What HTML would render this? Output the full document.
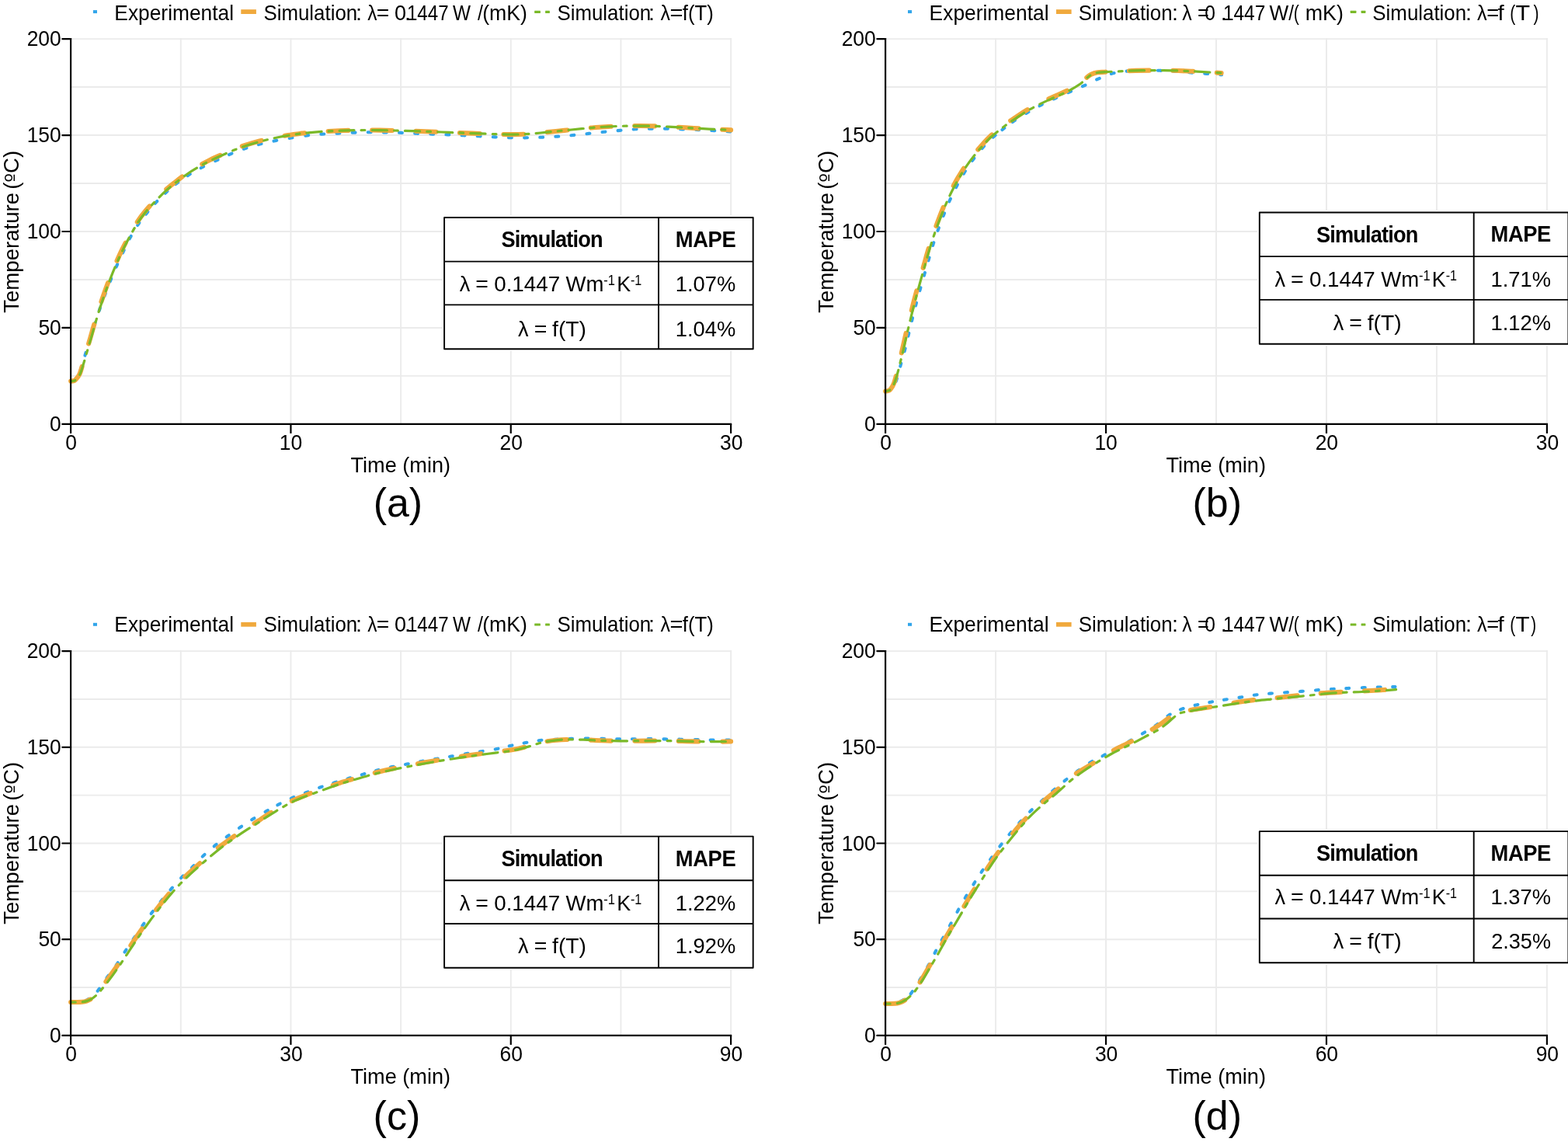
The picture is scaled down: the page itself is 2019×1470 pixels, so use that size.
<!DOCTYPE html>
<html lang="en"><head><meta charset="utf-8"><title>Temperature curves: experimental vs simulation</title>
<style>html,body{margin:0;padding:0;background:#fff}body{width:2019px;height:1470px;overflow:hidden}svg{display:block}</style>
</head><body>
<svg width="2019" height="1470" viewBox="0 0 2019 1470" font-family='"Liberation Sans", Arial, Helvetica, sans-serif' fill="#000">
<rect width="2019" height="1470" fill="#fff"/>
<g transform="translate(0 0)">
<g stroke="#ebebeb" stroke-width="1.9" fill="none">
<line x1="91.1" y1="50.1" x2="942.1" y2="50.1"/>
<line x1="91.1" y1="112.07" x2="942.1" y2="112.07"/>
<line x1="91.1" y1="174.05" x2="942.1" y2="174.05"/>
<line x1="91.1" y1="236.02" x2="942.1" y2="236.02"/>
<line x1="91.1" y1="298" x2="942.1" y2="298"/>
<line x1="91.1" y1="359.98" x2="942.1" y2="359.98"/>
<line x1="91.1" y1="421.95" x2="942.1" y2="421.95"/>
<line x1="91.1" y1="483.92" x2="942.1" y2="483.92"/>
<line x1="232.77" y1="49.1" x2="232.77" y2="545.9"/>
<line x1="374.43" y1="49.1" x2="374.43" y2="545.9"/>
<line x1="516.1" y1="49.1" x2="516.1" y2="545.9"/>
<line x1="657.77" y1="49.1" x2="657.77" y2="545.9"/>
<line x1="799.43" y1="49.1" x2="799.43" y2="545.9"/>
<line x1="941.1" y1="49.1" x2="941.1" y2="545.9"/>
</g>
<g fill="none" stroke-linecap="round" stroke-linejoin="round">
<path d="M91.1 490.7L91.33 490.68L91.63 490.66L91.99 490.64L92.39 490.62L92.81 490.58L93.24 490.54L93.64 490.48L94 490.4L94.31 490.34L94.59 490.32L94.86 490.31L95.12 490.27L95.4 490.18L95.71 490.01L96.07 489.73L96.5 489.3L97.01 488.75L97.59 488.12L98.21 487.4L98.88 486.58L99.55 485.67L100.23 484.65L100.88 483.53L101.5 482.3L102.08 480.93L102.65 479.43L103.2 477.8L103.75 476.08L104.3 474.29L104.85 472.44L105.42 470.57L106 468.7L106.6 466.79L107.21 464.81L107.83 462.79L108.46 460.72L109.09 458.63L109.72 456.54L110.36 454.46L111 452.4L111.64 450.36L112.29 448.33L112.94 446.29L113.59 444.26L114.25 442.22L114.9 440.18L115.55 438.14L116.2 436.1L116.84 434.05L117.48 432L118.12 429.95L118.75 427.9L119.38 425.85L120.02 423.8L120.66 421.75L121.3 419.7L121.94 417.66L122.58 415.62L123.22 413.58L123.86 411.54L124.5 409.51L125.16 407.47L125.82 405.44L126.5 403.4L127.2 401.36L127.91 399.31L128.63 397.26L129.36 395.21L130.09 393.17L130.83 391.13L131.57 389.11L132.3 387.1L133.03 385.11L133.75 383.15L134.48 381.19L135.21 379.25L135.94 377.31L136.68 375.35L137.43 373.39L138.2 371.4L138.98 369.39L139.77 367.37L140.57 365.33L141.38 363.29L142.19 361.24L143.02 359.19L143.85 357.14L144.7 355.1L145.55 353.06L146.42 351.03L147.29 348.99L148.17 346.96L149.07 344.92L149.97 342.88L150.88 340.84L151.8 338.8L152.73 336.75L153.69 334.69L154.65 332.62L155.62 330.56L156.59 328.5L157.57 326.45L158.54 324.41L159.5 322.4L160.43 320.43L161.33 318.5L162.22 316.59L163.11 314.69L164.03 312.78L164.98 310.84L166 308.85L167.1 306.8L168.29 304.66L169.54 302.44L170.86 300.16L172.22 297.86L173.61 295.56L175.01 293.3L176.41 291.1L177.8 289L179.18 286.99L180.57 285.04L181.97 283.15L183.38 281.29L183.45 281.2" stroke="#32a5ea" stroke-width="4.1" stroke-dasharray="3.9 16.25" stroke-dashoffset="0"/>
<path d="M183.45 281.2L184.79 279.47L186.22 277.67L187.65 275.89L189.1 274.1L190.55 272.33L192 270.57L193.47 268.84L194.94 267.13L195.05 267" stroke="#32a5ea" stroke-width="4.1" stroke-dasharray="3.9 16.25" stroke-dashoffset="13.03"/>
<path d="M195.05 267L196.42 265.43L197.93 263.75L199.45 262.07L201 260.4L202.58 258.73L204.18 257.07L205.8 255.41L207.44 253.77L207.55 253.66" stroke="#32a5ea" stroke-width="4.1" stroke-dasharray="3.9 16.25" stroke-dashoffset="13.21"/>
<path d="M207.55 253.66L209.09 252.14L210.75 250.54L212.43 248.95L214.1 247.4L215.77 245.88L217.44 244.38L219.12 242.91L220.81 241.46L220.95 241.34" stroke="#32a5ea" stroke-width="4.1" stroke-dasharray="3.9 16.25" stroke-dashoffset="13.04"/>
<path d="M220.95 241.34L222.51 240.02L224.24 238.6L226 237.2L227.8 235.8L229.63 234.41L231.49 233.04L233.37 231.68L235.28 230.34L235.5 230.19" stroke="#32a5ea" stroke-width="4.1" stroke-dasharray="3.9 16.25" stroke-dashoffset="13.29"/>
<path d="M235.5 230.19L237.22 229.01L239.18 227.69L241.18 226.39L243.2 225.1L245.25 223.83L247.34 222.57L249.46 221.32L251.61 220.09L251.8 219.98" stroke="#32a5ea" stroke-width="4.1" stroke-dasharray="3.9 16.25" stroke-dashoffset="12.87"/>
<path d="M251.8 219.98L253.78 218.87L255.97 217.67L258.18 216.48L260.4 215.3L262.66 214.14L264.95 212.99L267.27 211.86L269.61 210.74L269.65 210.73" stroke="#32a5ea" stroke-width="4.1" stroke-dasharray="3.9 16.25" stroke-dashoffset="12.31"/>
<path d="M269.65 210.73L271.96 209.64L274.29 208.55L276.61 207.47L278.9 206.4L281.15 205.34L283.37 204.3L285.57 203.26L287.77 202.24L287.8 202.23" stroke="#32a5ea" stroke-width="4.1" stroke-dasharray="3.9 16.25" stroke-dashoffset="11.89"/>
<path d="M287.8 202.23L289.97 201.24L292.18 200.24L294.42 199.26L296.7 198.3L299.02 197.35L301.37 196.4L303.74 195.46L306.12 194.54L306.2 194.51" stroke="#32a5ea" stroke-width="4.1" stroke-dasharray="3.9 16.25" stroke-dashoffset="12.37"/>
<path d="M306.2 194.51L308.52 193.64L310.92 192.76L313.32 191.91L315.7 191.1L318.07 190.32L320.43 189.58L322.79 188.86L325.16 188.17L325.2 188.16" stroke="#32a5ea" stroke-width="4.1" stroke-dasharray="3.9 16.25" stroke-dashoffset="12.01"/>
<path d="M325.2 188.16L327.52 187.51L329.9 186.86L332.29 186.22L334.7 185.6L337.13 184.99L339.56 184.4L342.01 183.83L344.47 183.28L344.55 183.26" stroke="#32a5ea" stroke-width="4.1" stroke-dasharray="3.9 16.25" stroke-dashoffset="12.26"/>
<path d="M344.55 183.26L346.95 182.74L349.42 182.22L351.91 181.7L354.4 181.2L356.9 180.71L359.4 180.23L361.92 179.77L364.44 179.32L364.5 179.31" stroke="#32a5ea" stroke-width="4.1" stroke-dasharray="3.9 16.25" stroke-dashoffset="12.04"/>
<path d="M364.5 179.31L366.97 178.89L369.5 178.45L372.05 178.03L374.6 177.6L377.17 177.17L379.77 176.74L382.39 176.31L384.4 175.99" stroke="#32a5ea" stroke-width="4.1" stroke-dasharray="3.9 16.25" stroke-dashoffset="11.86"/>
<path d="M384.4 175.99L385.01 175.89L387.62 175.48L390.21 175.09L392.78 174.73L395.3 174.4L397.77 174.1L400.19 173.83L402.57 173.59L404.94 173.36L407.31 173.15L409.7 172.96L412.13 172.78L414.6 172.6L417.13 172.44L419.71 172.29L422.33 172.16L424.96 172.04L427.59 171.93L430.22 171.82L432.83 171.71L435.4 171.6L437.94 171.48L440.45 171.36L442.95 171.24L445.44 171.12L447.93 171L450.41 170.89L452.9 170.79L455.4 170.7L457.9 170.61L460.4 170.53L462.9 170.45L465.4 170.38L467.91 170.32L470.42 170.27L472.95 170.23L475.5 170.2L478.07 170.19L480.67 170.19L483.28 170.21L485.9 170.24L488.52 170.27L491.13 170.31L493.73 170.36L496.3 170.4L498.85 170.45L501.38 170.49L503.89 170.55L506.4 170.61L508.9 170.67L511.4 170.74L513.9 170.82L516.4 170.9L518.9 170.99L521.4 171.1L523.9 171.21L526.4 171.33L528.9 171.45L531.4 171.57L533.9 171.69L536.4 171.8L538.91 171.9L541.42 172.01L543.93 172.11L546.45 172.21L548.97 172.3L551.48 172.4L553.99 172.5L556.5 172.6L559 172.7L561.5 172.8L564 172.9L566.5 172.99L569 173.09L571.5 173.19L574 173.3L576.5 173.4L579.01 173.51L581.52 173.62L584.03 173.73L586.55 173.84L589.07 173.95L591.58 174.07L594.09 174.18L596.6 174.3L599.1 174.42L601.6 174.54L604.1 174.66L606.6 174.79L609.1 174.91L611.6 175.04L614.1 175.17L616.6 175.3L619.1 175.43L621.6 175.58L624.1 175.72L626.6 175.86L629.11 176.01L631.62 176.14L634.15 176.28L636.7 176.4L639.27 176.52L641.86 176.64L644.47 176.75L647.09 176.86L649.71 176.96L652.32 177.06L654.92 177.14L657.5 177.2L660.06 177.25L662.61 177.29L665.16 177.32L667.69 177.34L670.22 177.34L672.75 177.34L675.28 177.33L677.8 177.3L680.32 177.26L682.83 177.21L685.34 177.15L687.85 177.08L690.36 176.99L692.87 176.9L695.38 176.8L697.9 176.7L700.43 176.59L702.97 176.47L705.52 176.35L708.07 176.21L710.62 176.07L713.16 175.92L715.69 175.76L718.2 175.6L720.7 175.43L723.18 175.25L725.65 175.06L728.11 174.86L730.58 174.66L733.04 174.45L735.51 174.23L738 174L740.5 173.76L743.01 173.51L745.52 173.25L748.04 172.98L750.56 172.71L753.08 172.44L755.59 172.17L758.1 171.9L760.6 171.64L763.1 171.37L765.6 171.1L768.1 170.84L770.6 170.57L773.1 170.31L775.6 170.05L778.1 169.8L780.61 169.55L783.12 169.3L785.63 169.06L788.15 168.82L790.67 168.58L793.18 168.35L795.69 168.12L798.2 167.9L800.7 167.68L803.2 167.46L805.7 167.23L808.2 167.02L810.7 166.81L813.2 166.62L815.7 166.45L818.2 166.3L820.7 166.17L823.2 166.07L825.7 165.98L828.2 165.9L830.71 165.84L833.22 165.78L835.75 165.74L838.3 165.7L840.88 165.67L843.49 165.64L846.11 165.63L848.75 165.62L851.38 165.62L853.99 165.64L856.57 165.66L859.1 165.7L861.57 165.75L864 165.83L866.38 165.91L868.75 166.01L871.12 166.11L873.5 166.21L875.93 166.31L878.4 166.4L880.93 166.48L883.51 166.57L886.12 166.64L888.75 166.72L891.39 166.81L894.01 166.9L896.62 166.99L899.2 167.1L901.73 167.22L904.23 167.34L906.71 167.47L909.19 167.61L911.67 167.76L914.17 167.9L916.71 168.05L919.3 168.2L922.09 168.36L925.14 168.54L928.31 168.73L931.46 168.92L934.45 169.1L937.14 169.26L939.41 169.4L941.1 169.5" stroke="#32a5ea" stroke-width="4.1" stroke-dasharray="3.9 16.25" stroke-dashoffset="11.14"/>
<path d="M91.1 490.7C91.67 490.63 93.5 490.58 94.5 490.3C95.5 490.02 95.81 490.37 97.1 489C98.39 487.62 100.66 485.49 102.24 482.07C103.83 478.65 105.11 473.44 106.61 468.45C108.11 463.46 109.67 457.56 111.24 452.12C112.81 446.68 114.46 441.27 116.04 435.82C117.62 430.37 119.16 424.87 120.74 419.42C122.32 413.97 123.84 408.54 125.55 403.1C127.25 397.66 129.13 392.12 130.95 386.78C132.77 381.44 134.52 376.4 136.46 371.06C138.4 365.72 140.42 360.18 142.57 354.73C144.72 349.29 147 343.86 149.38 338.4C151.77 332.94 154.18 327.54 156.9 321.96C159.62 316.38 162.38 311 165.72 304.92C169.07 298.83 173.29 291.1 176.96 285.46C180.63 279.81 183.94 275.64 187.73 271.06C191.52 266.49 195.49 262.38 199.68 258.01C203.86 253.64 208.44 248.84 212.83 244.86C217.21 240.88 221.42 237.69 225.98 234.11C230.55 230.53 235.46 226.66 240.23 223.38C245 220.1 249.81 217.23 254.6 214.44C259.38 211.64 263.99 209.1 268.95 206.61C273.92 204.11 279.23 201.81 284.39 199.49C289.55 197.17 294.56 194.81 299.93 192.67C305.3 190.53 311.02 188.48 316.59 186.65C322.16 184.82 327.77 183.18 333.35 181.69C338.92 180.19 344.28 178.91 350.04 177.71C355.81 176.5 361.95 175.4 367.92 174.45C373.89 173.5 381.81 172.54 385.87 172C389.93 171.46 387.5 171.62 392.29 171.19C397.08 170.76 407.16 169.88 414.6 169.4C422.04 168.92 429.47 168.6 436.9 168.3C444.33 168 450.53 167.72 459.2 167.6C467.87 167.48 479 167.48 488.9 167.6C498.8 167.72 508.7 168.03 518.6 168.3C528.5 168.57 538.4 168.85 548.3 169.2C558.2 169.55 568.1 170 578 170.4C587.9 170.8 597.78 171.23 607.7 171.6C617.62 171.97 628.78 172.35 637.5 172.6C646.22 172.85 652.53 173.15 660 173.1C667.47 173.05 674.87 172.8 682.3 172.3C689.73 171.8 697.17 170.83 704.6 170.1C712.03 169.37 719.47 168.63 726.9 167.9C734.33 167.17 741.78 166.4 749.2 165.7C756.62 165 763.98 164.23 771.4 163.7C778.82 163.17 786.27 162.77 793.7 162.5C801.13 162.23 808.57 162.15 816 162.1C823.43 162.05 830.87 162.03 838.3 162.2C845.73 162.37 853.17 162.75 860.6 163.1C868.03 163.45 875.47 163.87 882.9 164.3C890.33 164.73 897.77 165.3 905.2 165.7C912.63 166.1 921.52 166.42 927.5 166.7C933.48 166.98 938.83 167.28 941.1 167.4" stroke="#f0a93d" stroke-width="6.1" stroke-dasharray="25.9 30.55" stroke-dashoffset="0"/>
<path d="M91.1 490.7C91.67 490.63 93.48 490.57 94.5 490.3C95.52 490.03 95.83 490.43 97.2 489.1C98.57 487.77 101 485.7 102.7 482.3C104.4 478.9 105.82 473.68 107.4 468.7C108.98 463.72 110.6 457.83 112.2 452.4C113.8 446.97 115.42 441.55 117 436.1C118.58 430.65 120.12 425.15 121.7 419.7C123.28 414.25 124.8 408.83 126.5 403.4C128.2 397.97 130.08 392.43 131.9 387.1C133.72 381.77 135.47 376.73 137.4 371.4C139.33 366.07 141.35 360.53 143.5 355.1C145.65 349.67 147.92 344.25 150.3 338.8C152.68 333.35 155.08 327.97 157.8 322.4C160.52 316.83 163.27 311.47 166.6 305.4C169.93 299.33 174.15 291.62 177.8 286C181.45 280.38 184.73 276.25 188.5 271.7C192.27 267.15 196.23 263.05 200.4 258.7C204.57 254.35 209.13 249.57 213.5 245.6C217.87 241.63 222.05 238.47 226.6 234.9C231.15 231.33 236.05 227.47 240.8 224.2C245.55 220.93 250.33 218.08 255.1 215.3C259.87 212.52 264.45 209.98 269.4 207.5C274.35 205.02 279.65 202.72 284.8 200.4C289.95 198.08 294.95 195.73 300.3 193.6C305.65 191.47 311.35 189.43 316.9 187.6C322.45 185.77 328.05 184.13 333.6 182.6C339.15 181.07 344.47 179.68 350.2 178.4C355.93 177.12 362.05 175.93 368 174.9C373.95 173.87 381.85 172.8 385.9 172.2C389.95 171.6 387.52 171.77 392.3 171.3C397.08 170.83 407.17 169.9 414.6 169.4C422.03 168.9 429.47 168.6 436.9 168.3C444.33 168 450.53 167.72 459.2 167.6C467.87 167.48 479 167.48 488.9 167.6C498.8 167.72 508.7 168.03 518.6 168.3C528.5 168.57 538.4 168.85 548.3 169.2C558.2 169.55 568.1 170 578 170.4C587.9 170.8 597.78 171.23 607.7 171.6C617.62 171.97 628.78 172.35 637.5 172.6C646.22 172.85 652.53 173.15 660 173.1C667.47 173.05 674.87 172.8 682.3 172.3C689.73 171.8 697.17 170.83 704.6 170.1C712.03 169.37 719.47 168.63 726.9 167.9C734.33 167.17 741.78 166.4 749.2 165.7C756.62 165 763.98 164.23 771.4 163.7C778.82 163.17 786.27 162.77 793.7 162.5C801.13 162.23 808.57 162.15 816 162.1C823.43 162.05 830.87 162.03 838.3 162.2C845.73 162.37 853.17 162.75 860.6 163.1C868.03 163.45 875.47 163.87 882.9 164.3C890.33 164.73 897.77 165.3 905.2 165.7C912.63 166.1 921.52 166.42 927.5 166.7C933.48 166.98 938.83 167.28 941.1 167.4" stroke="#7ab928" stroke-width="3.2" stroke-dasharray="19.2 9.1 4.8 9.1" stroke-dashoffset="27"/>
</g>
<g stroke="#000" stroke-width="2.2" fill="none">
<path d="M91.1 49V545.9H942.2"/>
<line x1="80.3" y1="50.1" x2="91.1" y2="50.1" stroke-linecap="round"/>
<line x1="80.3" y1="174.05" x2="91.1" y2="174.05" stroke-linecap="round"/>
<line x1="80.3" y1="298" x2="91.1" y2="298" stroke-linecap="round"/>
<line x1="80.3" y1="421.95" x2="91.1" y2="421.95" stroke-linecap="round"/>
<line x1="80.3" y1="545.9" x2="91.1" y2="545.9" stroke-linecap="round"/>
<line x1="91.1" y1="545.9" x2="91.1" y2="557.9"/>
<line x1="374.43" y1="545.9" x2="374.43" y2="557.9"/>
<line x1="657.77" y1="545.9" x2="657.77" y2="557.9"/>
<line x1="941.1" y1="545.9" x2="941.1" y2="557.9"/>
</g>
<text x="34.63" y="59.1" font-size="27.7" textLength="44.14" lengthAdjust="spacingAndGlyphs">200</text>
<text x="34.63" y="183.05" font-size="27.7" textLength="44.14" lengthAdjust="spacingAndGlyphs">150</text>
<text x="34.63" y="307" font-size="27.7" textLength="44.14" lengthAdjust="spacingAndGlyphs">100</text>
<text x="49.38" y="430.95" font-size="27.7" textLength="29.43" lengthAdjust="spacingAndGlyphs">50</text>
<text transform="translate(64.06 554.9) scale(0.9550 1)" font-size="27.7">0</text>
<text transform="translate(84.28 579.3) scale(0.9550 1)" font-size="27.7">0</text>
<text x="359.81" y="579.3" font-size="27.7" textLength="29.43" lengthAdjust="spacingAndGlyphs">10</text>
<text x="643.47" y="579.3" font-size="27.7" textLength="29.43" lengthAdjust="spacingAndGlyphs">20</text>
<text x="926.97" y="579.3" font-size="27.7" textLength="29.43" lengthAdjust="spacingAndGlyphs">30</text>
<text x="451.49" y="607.9" font-size="28.2" textLength="128.55" lengthAdjust="spacingAndGlyphs">Time (min)</text>
<text transform="translate(23.7 298.3) rotate(-90)" font-size="27.6" text-anchor="middle" word-spacing="-3.6">Temperature (<tspan font-family="DejaVu Sans, sans-serif" font-size="25">º</tspan>C)</text>
<rect x="119.9" y="13.1" width="5.1" height="4" fill="#32a5ea"/>
<rect x="310.3" y="12.2" width="19.6" height="5.8" fill="#f0a93d"/>
<rect x="688.2" y="13.7" width="7.7" height="3.2" rx="0.5" fill="#7ab928"/>
<rect x="702.1" y="13.7" width="5.8" height="3.2" rx="0.5" fill="#7ab928"/>
<text font-size="27.9"><tspan x="147.33" y="26.1" textLength="153.71" lengthAdjust="spacingAndGlyphs">Experimental</tspan></text>
<text font-size="27.9"><tspan x="339.44" y="26.1" textLength="120.72" lengthAdjust="spacingAndGlyphs">Simulation</tspan><tspan x="458.02" y="26.1" textLength="7.98" lengthAdjust="spacingAndGlyphs">:</tspan> <tspan x="473.22" y="26.1" textLength="12.23" lengthAdjust="spacingAndGlyphs">λ</tspan><tspan x="484.86" y="26.1" textLength="16.53" lengthAdjust="spacingAndGlyphs">=</tspan> <tspan x="507.92" y="26.1" textLength="15.03" lengthAdjust="spacingAndGlyphs">0</tspan><tspan x="521.02" y="26.1" textLength="7.98" lengthAdjust="spacingAndGlyphs">.</tspan><tspan x="523.99" y="26.1" textLength="53.56" lengthAdjust="spacingAndGlyphs">1447</tspan> <tspan x="583.08" y="26.1" textLength="23.02" lengthAdjust="spacingAndGlyphs">W</tspan> <tspan x="614.9" y="26.1" textLength="6.91" lengthAdjust="spacingAndGlyphs">/</tspan><tspan x="621.13" y="26.1" textLength="57.8" lengthAdjust="spacingAndGlyphs">(mK)</tspan></text>
<text font-size="27.9"><tspan x="717.44" y="26.1" textLength="120.72" lengthAdjust="spacingAndGlyphs">Simulation</tspan><tspan x="835.02" y="26.1" textLength="7.98" lengthAdjust="spacingAndGlyphs">:</tspan> <tspan x="850.61" y="26.1" textLength="12.44" lengthAdjust="spacingAndGlyphs">λ</tspan><tspan x="862.52" y="26.1" textLength="17.01" lengthAdjust="spacingAndGlyphs">=</tspan><tspan x="878.81" y="26.1" textLength="40.02" lengthAdjust="spacingAndGlyphs">f(T)</tspan></text>
<g transform="translate(0 0)">
<rect x="569.6" y="277.5" width="402.6" height="174.2" fill="#fff"/>
<path d="M572.1 280H969.7V449.2H572.1ZM572.1 336.6H969.7M572.1 392.4H969.7M848 280V449.2" fill="none" stroke="#000" stroke-width="1.9" stroke-linejoin="round"/>
<text transform="translate(645.38 318.3) scale(0.9500 1)" font-size="28.6" letter-spacing="-0.888" font-weight="bold">Simulation</text>
<text transform="translate(869.85 317.9) scale(0.9500 1)" font-size="28.8" letter-spacing="-0.431" font-weight="bold">MAPE</text>
<text font-size="28.4"><tspan x="591.8" y="374.8" textLength="13.58" lengthAdjust="spacingAndGlyphs">λ</tspan> <tspan x="612.35" y="374.8" textLength="16.65" lengthAdjust="spacingAndGlyphs">=</tspan> <tspan x="636.19" y="374.8" textLength="84.93" lengthAdjust="spacingAndGlyphs">0.1447</tspan> <tspan x="728.56" y="374.8" textLength="48.91" lengthAdjust="spacingAndGlyphs">Wm</tspan><tspan x="777.26" y="366.9" font-size="18.7" textLength="14.65" lengthAdjust="spacingAndGlyphs">-1</tspan><tspan x="794.18" y="374.8" textLength="17.94" lengthAdjust="spacingAndGlyphs">K</tspan><tspan x="811.98" y="366.9" font-size="18.7" textLength="14.32" lengthAdjust="spacingAndGlyphs">-1</tspan></text>
<text font-size="28.4"><tspan x="869.85" y="374.8" textLength="77.45" lengthAdjust="spacingAndGlyphs">1.07%</tspan></text>
<text font-size="28.4"><tspan x="667.1" y="432.9" textLength="13.58" lengthAdjust="spacingAndGlyphs">λ</tspan> <tspan x="687.65" y="432.9" textLength="16.65" lengthAdjust="spacingAndGlyphs">=</tspan> <tspan x="711.08" y="432.9" textLength="43.91" lengthAdjust="spacingAndGlyphs">f(T)</tspan></text>
<text font-size="28.4"><tspan x="869.85" y="432.9" textLength="77.45" lengthAdjust="spacingAndGlyphs">1.04%</tspan></text>
</g>
<text x="480.66" y="665.4" font-size="51.7" textLength="63.44" lengthAdjust="spacingAndGlyphs">(a)</text>
</g>
<g transform="translate(1049 0)">
<g stroke="#ebebeb" stroke-width="1.9" fill="none">
<line x1="91.1" y1="50.1" x2="943.9" y2="50.1"/>
<line x1="91.1" y1="112.07" x2="943.9" y2="112.07"/>
<line x1="91.1" y1="174.05" x2="943.9" y2="174.05"/>
<line x1="91.1" y1="236.02" x2="943.9" y2="236.02"/>
<line x1="91.1" y1="298" x2="943.9" y2="298"/>
<line x1="91.1" y1="359.98" x2="943.9" y2="359.98"/>
<line x1="91.1" y1="421.95" x2="943.9" y2="421.95"/>
<line x1="91.1" y1="483.92" x2="943.9" y2="483.92"/>
<line x1="233.07" y1="49.1" x2="233.07" y2="545.9"/>
<line x1="375.03" y1="49.1" x2="375.03" y2="545.9"/>
<line x1="517" y1="49.1" x2="517" y2="545.9"/>
<line x1="658.97" y1="49.1" x2="658.97" y2="545.9"/>
<line x1="800.93" y1="49.1" x2="800.93" y2="545.9"/>
<line x1="942.9" y1="49.1" x2="942.9" y2="545.9"/>
</g>
<g fill="none" stroke-linecap="round" stroke-linejoin="round">
<path d="M91.1 503.6L91.39 503.58L91.76 503.56L92.22 503.54L92.72 503.51L93.25 503.47L93.79 503.41L94.31 503.32L94.8 503.2L95.25 503.08L95.69 502.99L96.13 502.89L96.57 502.76L97.02 502.57L97.48 502.3L97.98 501.92L98.5 501.4L99.07 500.75L99.68 500L100.31 499.15L100.97 498.21L101.63 497.18L102.28 496.09L102.9 494.92L103.5 493.7L104.07 492.4L104.61 491.01L105.15 489.54L105.67 488L106.18 486.41L106.69 484.77L107.19 483.09L107.7 481.4L108.2 479.66L108.69 477.86L109.17 476.01L109.65 474.12L110.13 472.21L110.61 470.29L111.1 468.39L111.6 466.5L112.11 464.64L112.63 462.79L113.16 460.94L113.69 459.09L114.23 457.22L114.76 455.34L115.28 453.44L115.8 451.5L116.31 449.52L116.83 447.49L117.34 445.43L117.84 443.35L118.35 441.27L118.84 439.21L119.33 437.18L119.8 435.2L120.26 433.26L120.71 431.36L121.14 429.48L121.57 427.62L121.99 425.77L122.42 423.92L122.86 422.07L123.3 420.2L123.75 418.33L124.2 416.48L124.65 414.63L125.11 412.78L125.57 410.92L126.04 409.04L126.51 407.14L127 405.2L127.5 403.22L128.01 401.19L128.54 399.13L129.07 397.05L129.6 394.97L130.14 392.91L130.67 390.88L131.2 388.9L131.72 386.97L132.24 385.09L132.76 383.24L133.28 381.4L133.8 379.56L134.32 377.71L134.86 375.83L135.4 373.9L135.95 371.92L136.52 369.92L137.09 367.88L137.66 365.83L138.24 363.77L138.83 361.71L139.41 359.65L140 357.6L140.59 355.56L141.2 353.51L141.8 351.46L142.41 349.41L143.02 347.37L143.62 345.33L144.22 343.31L144.8 341.3L145.37 339.31L145.92 337.33L146.46 335.36L147 333.41L147.54 331.45L148.08 329.5L148.63 327.55L149.2 325.6L149.79 323.6L150.41 321.55L151.04 319.48L151.68 317.42L152.3 315.41L152.9 313.48L153.47 311.66L154 310L154.45 308.57L154.83 307.38L155.16 306.34L155.48 305.37L155.81 304.37L156.18 303.27L156.64 301.98L157.2 300.4L157.87 298.53L158.63 296.44L159.46 294.18L160.34 291.8L161.25 289.35L162.17 286.89L163.1 284.45L164 282.1L164.89 279.8L165.8 277.48L166.71 275.15L167.63 272.83L168.56 270.52L169.5 268.22L170.45 265.94L171.4 263.7L172.36 261.48L173.33 259.29L174.3 257.1L175.28 254.94L176.27 252.8L177.27 250.68L178.28 248.58L179.3 246.5L180.33 244.45L181.36 242.43L182.4 240.44L183.44 238.47L184.51 236.51L185.58 234.54L186.68 232.58L187.8 230.6L188.94 228.6L190.11 226.58L191.29 224.56L192.49 222.54L193.71 220.53L194.93 218.55L196.16 216.6L197.4 214.7L198.65 212.84L199.91 211L201.18 209.2L202.46 207.42L203.75 205.67L205.04 203.95L206.32 202.26L207.6 200.6L208.87 198.97L210.14 197.38L211.4 195.82L212.67 194.29L213.94 192.79L215.21 191.31L216.5 189.85L217.8 188.4L219.09 186.99L220.35 185.62L221.61 184.29L222.89 182.97L224.19 181.65L225.55 180.33L226.98 178.98L228.5 177.6L230.13 176.17L231.86 174.7L233.67 173.2L235.53 171.7L236.65 170.8" stroke="#32a5ea" stroke-width="4.1" stroke-dasharray="3.9 16.25" stroke-dashoffset="0"/>
<path d="M236.65 170.8L237.4 170.2L239.28 168.73L241.12 167.29L242.9 165.9L244.6 164.58L246.25 163.3L247.86 162.07L249.46 160.86L249.65 160.72" stroke="#32a5ea" stroke-width="4.1" stroke-dasharray="3.9 16.25" stroke-dashoffset="14.16"/>
<path d="M249.65 160.72L251.09 159.65L252.77 158.43L254.53 157.19L256.4 155.9L258.39 154.56L260.48 153.19L262.64 151.78L264.86 150.37L265.1 150.22" stroke="#32a5ea" stroke-width="4.1" stroke-dasharray="3.9 16.25" stroke-dashoffset="13.81"/>
<path d="M265.1 150.22L267.1 148.96L269.36 147.57L271.6 146.21L273.8 144.9L275.97 143.64L278.13 142.4L280.29 141.2L282.44 140.01L282.5 139.98" stroke="#32a5ea" stroke-width="4.1" stroke-dasharray="3.9 16.25" stroke-dashoffset="11.9"/>
<path d="M282.5 139.98L284.61 138.85L286.79 137.69L288.98 136.54L291.2 135.4L293.45 134.26L295.71 133.13L298 132.02L300.3 130.91L300.35 130.89" stroke="#32a5ea" stroke-width="4.1" stroke-dasharray="3.9 16.25" stroke-dashoffset="12.27"/>
<path d="M300.35 130.89L302.61 129.82L304.91 128.73L307.21 127.66L309.5 126.6L311.77 125.55L314.04 124.53L316.3 123.51L318.56 122.51L318.6 122.49" stroke="#32a5ea" stroke-width="4.1" stroke-dasharray="3.9 16.25" stroke-dashoffset="11.99"/>
<path d="M318.6 122.49L320.82 121.51L323.1 120.51L325.39 119.51L327.7 118.5L330.04 117.49L332.41 116.49L334.8 115.49L337.2 114.49L339.6 113.48L341.99 112.47L344.36 111.44L346.7 110.4L349.01 109.33L351.3 108.23L353.58 107.11L355.84 105.99L358.1 104.87L360.36 103.78L362.63 102.72L364.9 101.7L367.17 100.71L369.41 99.72L371.65 98.75L373.9 97.81L376.16 96.91L378.46 96.06L380.8 95.29L383.2 94.6L385.67 94L388.22 93.47L390.82 93L393.44 92.6L396.08 92.25L398.69 91.93L401.28 91.65L403.8 91.4L406.25 91.19L408.65 91.03L411.01 90.92L413.36 90.84L415.72 90.79L418.09 90.76L420.51 90.73L423 90.7L425.56 90.67L428.19 90.65L430.87 90.63L433.56 90.64L436.26 90.65L438.95 90.69L441.6 90.73L444.2 90.8L446.74 90.89L449.23 90.99L451.69 91.12L454.14 91.26L456.58 91.41L459.03 91.57L461.5 91.73L464 91.9L466.54 92.08L469.11 92.27L471.7 92.47L474.3 92.68L476.9 92.89L479.49 93.1L482.06 93.31L484.6 93.5L487.11 93.68L489.61 93.86L492.09 94.04L494.56 94.21L497.02 94.38L499.48 94.55L501.94 94.73L504.4 94.9L506.99 95.08L509.77 95.28L512.63 95.49L515.44 95.69L518.09 95.88L520.48 96.05L522.49 96.19L524 96.3" stroke="#32a5ea" stroke-width="4.1" stroke-dasharray="3.9 16.25" stroke-dashoffset="11.61"/>
<path d="M91.1 503.6C91.67 503.5 93.42 503.4 94.5 503C95.58 502.6 96.36 502.78 97.6 501.2C98.84 499.62 100.62 496.88 101.95 493.54C103.28 490.2 104.41 485.72 105.57 481.16C106.73 476.6 107.77 471.18 108.93 466.18C110.09 461.19 111.32 456.39 112.54 451.18C113.75 445.96 115.04 440.1 116.24 434.89C117.44 429.67 118.54 424.88 119.74 419.87C120.94 414.87 122.14 410.08 123.44 404.86C124.74 399.64 126.19 393.77 127.54 388.55C128.9 383.33 130.13 378.75 131.55 373.53C132.97 368.31 134.52 362.66 136.05 357.22C137.59 351.78 139.24 346.25 140.75 340.92C142.27 335.58 143.62 330.43 145.16 325.21C146.69 319.98 148.63 313.79 149.97 309.58C151.3 305.36 151.53 304.59 153.18 299.93C154.84 295.27 157.54 287.73 159.89 281.6C162.25 275.47 164.75 269.1 167.31 263.15C169.87 257.19 172.48 251.42 175.25 245.88C178.01 240.33 180.81 235.23 183.89 229.9C186.97 224.57 190.35 218.95 193.74 213.92C197.12 208.89 200.72 204.14 204.2 199.73C207.69 195.32 211.07 191.47 214.66 187.47C218.25 183.46 222.03 179.17 225.74 175.68C229.45 172.19 233.22 169.44 236.93 166.5C240.64 163.57 244.29 160.66 247.99 158.06C251.69 155.46 254.94 153.63 259.14 150.9C263.34 148.17 267.94 144.76 273.19 141.67C278.45 138.57 284.57 135.33 290.67 132.32C296.77 129.31 303.99 126.26 309.8 123.61C315.61 120.96 320.26 119.16 325.54 116.44C330.82 113.72 337.51 109.96 341.5 107.29C345.49 104.62 347.08 102.33 349.5 100.41C351.91 98.5 353.57 96.99 355.99 95.81C358.42 94.62 361.11 93.81 364.06 93.3C367.01 92.78 369.46 92.93 373.7 92.7C377.94 92.47 382.9 92.2 389.5 91.9C396.1 91.6 405.37 91.12 413.3 90.9C421.23 90.68 429.18 90.62 437.1 90.6C445.02 90.58 452.88 90.62 460.8 90.8C468.72 90.98 476.67 91.33 484.6 91.7C492.53 92.07 501.9 92.62 508.4 93C514.9 93.38 521.07 93.83 523.6 94" stroke="#f0a93d" stroke-width="6.1" stroke-dasharray="25.9 30.55" stroke-dashoffset="0"/>
<path d="M91.1 503.6C91.67 503.5 93.42 503.4 94.5 503C95.58 502.6 96.3 502.75 97.6 501.2C98.9 499.65 100.83 497 102.3 493.7C103.77 490.4 105.08 485.93 106.4 481.4C107.72 476.87 108.95 471.48 110.2 466.5C111.45 461.52 112.67 456.72 113.9 451.5C115.13 446.28 116.4 440.42 117.6 435.2C118.8 429.98 119.9 425.2 121.1 420.2C122.3 415.2 123.5 410.42 124.8 405.2C126.1 399.98 127.55 394.12 128.9 388.9C130.25 383.68 131.48 379.12 132.9 373.9C134.32 368.68 135.87 363.03 137.4 357.6C138.93 352.17 140.58 346.63 142.1 341.3C143.62 335.97 144.97 330.82 146.5 325.6C148.03 320.38 149.97 314.2 151.3 310C152.63 305.8 152.85 305.05 154.5 300.4C156.15 295.75 158.85 288.22 161.2 282.1C163.55 275.98 166.05 269.63 168.6 263.7C171.15 257.77 173.75 252.02 176.5 246.5C179.25 240.98 182.03 235.9 185.1 230.6C188.17 225.3 191.53 219.7 194.9 214.7C198.27 209.7 201.83 204.98 205.3 200.6C208.77 196.22 212.13 192.38 215.7 188.4C219.27 184.42 223.02 180.17 226.7 176.7C230.38 173.23 234.12 170.52 237.8 167.6C241.48 164.68 245.13 161.82 248.8 159.2C252.47 156.58 255.63 154.65 259.8 151.9C263.97 149.15 268.57 145.78 273.8 142.7C279.03 139.62 285.12 136.4 291.2 133.4C297.28 130.4 304.48 127.35 310.3 124.7C316.12 122.05 320.82 120.28 326.1 117.5C331.38 114.72 338.03 110.77 342 108C345.97 105.23 347.53 102.87 349.9 100.9C352.27 98.93 353.83 97.43 356.2 96.2C358.57 94.97 361.18 94.08 364.1 93.5C367.02 92.92 369.47 92.97 373.7 92.7C377.93 92.43 382.9 92.2 389.5 91.9C396.1 91.6 405.37 91.12 413.3 90.9C421.23 90.68 429.18 90.62 437.1 90.6C445.02 90.58 452.88 90.62 460.8 90.8C468.72 90.98 476.67 91.33 484.6 91.7C492.53 92.07 501.9 92.62 508.4 93C514.9 93.38 521.07 93.83 523.6 94" stroke="#7ab928" stroke-width="3.2" stroke-dasharray="19.2 9.1 4.8 9.1" stroke-dashoffset="27"/>
</g>
<g stroke="#000" stroke-width="2.2" fill="none">
<path d="M91.1 49V545.9H944"/>
<line x1="80.3" y1="50.1" x2="91.1" y2="50.1" stroke-linecap="round"/>
<line x1="80.3" y1="174.05" x2="91.1" y2="174.05" stroke-linecap="round"/>
<line x1="80.3" y1="298" x2="91.1" y2="298" stroke-linecap="round"/>
<line x1="80.3" y1="421.95" x2="91.1" y2="421.95" stroke-linecap="round"/>
<line x1="80.3" y1="545.9" x2="91.1" y2="545.9" stroke-linecap="round"/>
<line x1="91.1" y1="545.9" x2="91.1" y2="557.9"/>
<line x1="375.03" y1="545.9" x2="375.03" y2="557.9"/>
<line x1="658.97" y1="545.9" x2="658.97" y2="557.9"/>
<line x1="942.9" y1="545.9" x2="942.9" y2="557.9"/>
</g>
<text x="34.63" y="59.1" font-size="27.7" textLength="44.14" lengthAdjust="spacingAndGlyphs">200</text>
<text x="34.63" y="183.05" font-size="27.7" textLength="44.14" lengthAdjust="spacingAndGlyphs">150</text>
<text x="34.63" y="307" font-size="27.7" textLength="44.14" lengthAdjust="spacingAndGlyphs">100</text>
<text x="49.38" y="430.95" font-size="27.7" textLength="29.43" lengthAdjust="spacingAndGlyphs">50</text>
<text transform="translate(64.06 554.9) scale(0.9550 1)" font-size="27.7">0</text>
<text transform="translate(84.28 579.3) scale(0.9550 1)" font-size="27.7">0</text>
<text x="360.41" y="579.3" font-size="27.7" textLength="29.43" lengthAdjust="spacingAndGlyphs">10</text>
<text x="644.67" y="579.3" font-size="27.7" textLength="29.43" lengthAdjust="spacingAndGlyphs">20</text>
<text x="928.77" y="579.3" font-size="27.7" textLength="29.43" lengthAdjust="spacingAndGlyphs">30</text>
<text x="452.39" y="607.9" font-size="28.2" textLength="128.55" lengthAdjust="spacingAndGlyphs">Time (min)</text>
<text transform="translate(23.7 298.3) rotate(-90)" font-size="27.6" text-anchor="middle" word-spacing="-3.6">Temperature (<tspan font-family="DejaVu Sans, sans-serif" font-size="25">º</tspan>C)</text>
<rect x="120" y="13.1" width="5.1" height="4" fill="#32a5ea"/>
<rect x="311" y="12.2" width="19.6" height="5.8" fill="#f0a93d"/>
<rect x="689.7" y="13.7" width="7.7" height="3.2" rx="0.5" fill="#7ab928"/>
<rect x="703.6" y="13.7" width="5.8" height="3.2" rx="0.5" fill="#7ab928"/>
<text font-size="27.9"><tspan x="147.62" y="26.1" textLength="153.92" lengthAdjust="spacingAndGlyphs">Experimental</tspan></text>
<text font-size="27.9"><tspan x="339.84" y="26.1" textLength="120.82" lengthAdjust="spacingAndGlyphs">Simulation</tspan><tspan x="460.02" y="26.1" textLength="7.98" lengthAdjust="spacingAndGlyphs">:</tspan> <tspan x="473.21" y="26.1" textLength="12.44" lengthAdjust="spacingAndGlyphs">λ</tspan> <tspan x="493.1" y="26.1" textLength="14.73" lengthAdjust="spacingAndGlyphs">=</tspan><tspan x="502.32" y="26.1" textLength="13.63" lengthAdjust="spacingAndGlyphs">0</tspan> <tspan x="522.72" y="26.1" textLength="7.98" lengthAdjust="spacingAndGlyphs">.</tspan><tspan x="525.97" y="26.1" textLength="54.3" lengthAdjust="spacingAndGlyphs">1447</tspan> <tspan x="585.57" y="26.1" textLength="24.73" lengthAdjust="spacingAndGlyphs">W</tspan><tspan x="610.2" y="26.1" textLength="6.71" lengthAdjust="spacingAndGlyphs">/</tspan><tspan x="616.68" y="26.1" textLength="7.04" lengthAdjust="spacingAndGlyphs">(</tspan> <tspan x="631.79" y="26.1" textLength="49.13" lengthAdjust="spacingAndGlyphs">mK)</tspan></text>
<text font-size="27.9"><tspan x="718.34" y="26.1" textLength="120.82" lengthAdjust="spacingAndGlyphs">Simulation</tspan><tspan x="838.02" y="26.1" textLength="7.98" lengthAdjust="spacingAndGlyphs">:</tspan> <tspan x="853.01" y="26.1" textLength="12.64" lengthAdjust="spacingAndGlyphs">λ</tspan><tspan x="865.3" y="26.1" textLength="15.93" lengthAdjust="spacingAndGlyphs">=</tspan><tspan x="879.46" y="26.1" textLength="8.18" lengthAdjust="spacingAndGlyphs">f</tspan> <tspan x="895.28" y="26.1" textLength="7.04" lengthAdjust="spacingAndGlyphs">(</tspan><tspan x="902.63" y="26.1" textLength="18.06" lengthAdjust="spacingAndGlyphs">T</tspan> <tspan x="925.44" y="26.1" textLength="7.04" lengthAdjust="spacingAndGlyphs">)</tspan></text>
<g transform="translate(0.7 -6.5)">
<rect x="569.6" y="277.5" width="402.6" height="174.2" fill="#fff"/>
<path d="M572.1 280H969.7V449.2H572.1ZM572.1 336.6H969.7M572.1 392.4H969.7M848 280V449.2" fill="none" stroke="#000" stroke-width="1.9" stroke-linejoin="round"/>
<text transform="translate(645.38 318.3) scale(0.9500 1)" font-size="28.6" letter-spacing="-0.888" font-weight="bold">Simulation</text>
<text transform="translate(869.85 317.9) scale(0.9500 1)" font-size="28.8" letter-spacing="-0.431" font-weight="bold">MAPE</text>
<text font-size="28.4"><tspan x="591.8" y="375.3" textLength="13.58" lengthAdjust="spacingAndGlyphs">λ</tspan> <tspan x="612.35" y="375.3" textLength="16.65" lengthAdjust="spacingAndGlyphs">=</tspan> <tspan x="636.19" y="375.3" textLength="84.93" lengthAdjust="spacingAndGlyphs">0.1447</tspan> <tspan x="728.56" y="375.3" textLength="48.91" lengthAdjust="spacingAndGlyphs">Wm</tspan><tspan x="777.26" y="367.4" font-size="18.7" textLength="14.65" lengthAdjust="spacingAndGlyphs">-1</tspan><tspan x="794.18" y="375.3" textLength="17.94" lengthAdjust="spacingAndGlyphs">K</tspan><tspan x="811.98" y="367.4" font-size="18.7" textLength="14.32" lengthAdjust="spacingAndGlyphs">-1</tspan></text>
<text font-size="28.4"><tspan x="869.85" y="375.3" textLength="77.45" lengthAdjust="spacingAndGlyphs">1.71%</tspan></text>
<text font-size="28.4"><tspan x="667.1" y="431.5" textLength="13.58" lengthAdjust="spacingAndGlyphs">λ</tspan> <tspan x="687.65" y="431.5" textLength="16.65" lengthAdjust="spacingAndGlyphs">=</tspan> <tspan x="711.08" y="431.5" textLength="43.91" lengthAdjust="spacingAndGlyphs">f(T)</tspan></text>
<text font-size="28.4"><tspan x="869.85" y="431.5" textLength="77.45" lengthAdjust="spacingAndGlyphs">1.12%</tspan></text>
</g>
<text x="486.56" y="665.4" font-size="51.7" textLength="63.44" lengthAdjust="spacingAndGlyphs">(b)</text>
</g>
<g transform="translate(0 788)">
<g stroke="#ebebeb" stroke-width="1.9" fill="none">
<line x1="91.1" y1="50.1" x2="942.1" y2="50.1"/>
<line x1="91.1" y1="111.95" x2="942.1" y2="111.95"/>
<line x1="91.1" y1="173.8" x2="942.1" y2="173.8"/>
<line x1="91.1" y1="235.65" x2="942.1" y2="235.65"/>
<line x1="91.1" y1="297.5" x2="942.1" y2="297.5"/>
<line x1="91.1" y1="359.35" x2="942.1" y2="359.35"/>
<line x1="91.1" y1="421.2" x2="942.1" y2="421.2"/>
<line x1="91.1" y1="483.05" x2="942.1" y2="483.05"/>
<line x1="232.77" y1="49.1" x2="232.77" y2="544.9"/>
<line x1="374.43" y1="49.1" x2="374.43" y2="544.9"/>
<line x1="516.1" y1="49.1" x2="516.1" y2="544.9"/>
<line x1="657.77" y1="49.1" x2="657.77" y2="544.9"/>
<line x1="799.43" y1="49.1" x2="799.43" y2="544.9"/>
<line x1="941.1" y1="49.1" x2="941.1" y2="544.9"/>
</g>
<g fill="none" stroke-linecap="round" stroke-linejoin="round">
<path d="M91.1 502L91.64 501.99L92.36 501.99L93.22 501.98L94.17 501.98L95.18 501.96L96.18 501.95L97.13 501.93L98 501.9L98.79 501.87L99.56 501.85L100.32 501.82L101.06 501.79L101.79 501.74L102.52 501.68L103.26 501.6L104 501.5L104.75 501.38L105.5 501.24L106.25 501.09L107 500.93L107.75 500.74L108.5 500.52L109.25 500.28L110 500L110.75 499.69L111.51 499.35L112.27 498.98L113.03 498.58L113.78 498.16L114.53 497.72L115.26 497.26L115.98 496.78L116.69 496.27L117.38 495.75L118.06 495.2L118.73 494.62L119.4 494.03L119.8 493.66" stroke="#32a5ea" stroke-width="4.1" stroke-dasharray="3.9 16.25" stroke-dashoffset="0"/>
<path d="M119.8 493.66L120.06 493.43L120.72 492.8L121.38 492.17L121.99 491.58L122.54 491.08L123.05 490.59L123.58 490.07L124.15 489.46L124.81 488.7L125.6 487.73L126.54 486.5L127.66 484.95L128.94 483.13L130.33 481.1L131.82 478.93L132.65 477.7" stroke="#32a5ea" stroke-width="4.1" stroke-dasharray="3.9 16.25" stroke-dashoffset="11.8"/>
<path d="M132.65 477.7L133.35 476.66L134.91 474.38L136.46 472.14L137.97 470.01L139.46 467.96L140.99 465.91L142.53 463.86L144.09 461.82L144.6 461.14" stroke="#32a5ea" stroke-width="4.1" stroke-dasharray="3.9 16.25" stroke-dashoffset="11.85"/>
<path d="M144.6 461.14L145.63 459.77L147.17 457.72L148.67 455.66L150.13 453.6L151.54 451.53L152.91 449.45L154.25 447.37L155.57 445.29L156.1 444.45" stroke="#32a5ea" stroke-width="4.1" stroke-dasharray="3.9 16.25" stroke-dashoffset="11.73"/>
<path d="M156.1 444.45L156.89 443.2L158.21 441.11L159.55 439.01L160.92 436.92L162.3 434.81L163.7 432.71L165.1 430.6L166.52 428.48L167.15 427.54" stroke="#32a5ea" stroke-width="4.1" stroke-dasharray="3.9 16.25" stroke-dashoffset="12.09"/>
<path d="M167.15 427.54L167.94 426.37L169.36 424.25L170.79 422.13L172.22 420.01L173.66 417.88L175.11 415.73L176.56 413.58L178.02 411.43L178.6 410.57" stroke="#32a5ea" stroke-width="4.1" stroke-dasharray="3.9 16.25" stroke-dashoffset="11.99"/>
<path d="M178.6 410.57L179.48 409.29L180.93 407.16L182.38 405.06L183.83 403L185.26 400.97L186.68 398.97L188.09 396.99L189.5 395.03L190.1 394.21" stroke="#32a5ea" stroke-width="4.1" stroke-dasharray="3.9 16.25" stroke-dashoffset="11.9"/>
<path d="M190.1 394.21L190.92 393.09L192.34 391.15L193.78 389.21L195.24 387.28L196.72 385.34L198.21 383.42L199.7 381.5L201.21 379.59L201.85 378.79" stroke="#32a5ea" stroke-width="4.1" stroke-dasharray="3.9 16.25" stroke-dashoffset="12.55"/>
<path d="M201.85 378.79L202.73 377.68L204.26 375.78L205.8 373.87L207.36 371.96L208.92 370.04L210.49 368.13L212.07 366.21L213.66 364.3L214.3 363.54" stroke="#32a5ea" stroke-width="4.1" stroke-dasharray="3.9 16.25" stroke-dashoffset="12.46"/>
<path d="M214.3 363.54L215.27 362.39L216.89 360.47L218.52 358.56L220.17 356.64L221.84 354.71L223.53 352.76L225.24 350.81L226.97 348.85L227.55 348.2" stroke="#32a5ea" stroke-width="4.1" stroke-dasharray="3.9 16.25" stroke-dashoffset="12.23"/>
<path d="M227.55 348.2L228.7 346.91L230.43 345L232.17 343.13L233.9 341.31L235.63 339.56L237.36 337.87L239.1 336.22L240.85 334.6L241.35 334.13" stroke="#32a5ea" stroke-width="4.1" stroke-dasharray="3.9 16.25" stroke-dashoffset="12.02"/>
<path d="M241.35 334.13L242.59 332.98L244.33 331.35L246.07 329.7L247.81 328L249.53 326.26L251.23 324.47L252.93 322.66L254.63 320.84L255.2 320.24" stroke="#32a5ea" stroke-width="4.1" stroke-dasharray="3.9 16.25" stroke-dashoffset="12.5"/>
<path d="M255.2 320.24L256.34 319.02L258.07 317.22L259.83 315.44L261.62 313.69L263.44 311.98L265.29 310.28L267.16 308.59L269.05 306.92L269.65 306.41" stroke="#32a5ea" stroke-width="4.1" stroke-dasharray="3.9 16.25" stroke-dashoffset="12.27"/>
<path d="M269.65 306.41L270.96 305.28L272.88 303.65L274.82 302.04L276.76 300.46L278.72 298.9L280.7 297.37L282.69 295.87L284.7 294.39L285.2 294.02" stroke="#32a5ea" stroke-width="4.1" stroke-dasharray="3.9 16.25" stroke-dashoffset="12.27"/>
<path d="M285.2 294.02L286.71 292.92L288.74 291.46L290.76 290L292.79 288.53L294.82 287.07L296.86 285.61L298.9 284.15L300.95 282.69L301.35 282.42" stroke="#32a5ea" stroke-width="4.1" stroke-dasharray="3.9 16.25" stroke-dashoffset="12.23"/>
<path d="M301.35 282.42L303.01 281.25L305.06 279.82L307.11 278.41L309.17 277.01L311.21 275.64L313.24 274.28L315.27 272.94L317.31 271.61L317.65 271.39" stroke="#32a5ea" stroke-width="4.1" stroke-dasharray="3.9 16.25" stroke-dashoffset="12.2"/>
<path d="M317.65 271.39L319.35 270.29L321.4 268.98L323.48 267.67L325.59 266.36L327.74 265.05L329.93 263.74L332.15 262.43L334.38 261.13L334.5 261.06" stroke="#32a5ea" stroke-width="4.1" stroke-dasharray="3.9 16.25" stroke-dashoffset="12.46"/>
<path d="M334.5 261.06L336.6 259.84L338.81 258.57L340.98 257.34L343.1 256.13L345.15 254.96L347.15 253.83L349.11 252.73L351.05 251.64L351.1 251.62" stroke="#32a5ea" stroke-width="4.1" stroke-dasharray="3.9 16.25" stroke-dashoffset="12.07"/>
<path d="M351.1 251.62L352.99 250.58L354.95 249.52L356.94 248.46L358.99 247.39L361.1 246.31L363.24 245.23L365.41 244.16L367.6 243.09L367.75 243.02" stroke="#32a5ea" stroke-width="4.1" stroke-dasharray="3.9 16.25" stroke-dashoffset="13.14"/>
<path d="M367.75 243.02L369.81 242.03L372.04 240.99L374.27 239.98L376.5 239L378.74 238.06L381 237.15L383.27 236.26L385.56 235.4L385.6 235.38" stroke="#32a5ea" stroke-width="4.1" stroke-dasharray="3.9 16.25" stroke-dashoffset="12.47"/>
<path d="M385.6 235.38L387.84 234.55L390.13 233.7L392.42 232.86L394.7 232L396.97 231.13L399.25 230.26L401.52 229.4L403.8 228.53" stroke="#32a5ea" stroke-width="4.1" stroke-dasharray="3.9 16.25" stroke-dashoffset="12.39"/>
<path d="M403.8 228.53L403.8 228.53L406.07 227.68L408.35 226.83L410.62 226.01L412.9 225.2L415.17 224.42L417.45 223.65L419.72 222.9L421.99 222.17L422 222.17" stroke="#32a5ea" stroke-width="4.1" stroke-dasharray="3.9 16.25" stroke-dashoffset="12.41"/>
<path d="M422 222.17L424.27 221.44L426.54 220.73L428.82 220.01L431.1 219.3L433.38 218.59L435.67 217.89L437.96 217.2L440.25 216.51" stroke="#32a5ea" stroke-width="4.1" stroke-dasharray="3.9 16.25" stroke-dashoffset="12.56"/>
<path d="M440.25 216.51L440.25 216.51L442.54 215.82L444.83 215.14L447.12 214.47L449.4 213.8L451.68 213.13L453.96 212.48L456.23 211.82L458.5 211.18" stroke="#32a5ea" stroke-width="4.1" stroke-dasharray="3.9 16.25" stroke-dashoffset="12.56"/>
<path d="M458.5 211.18L458.51 211.17L460.78 210.53L463.05 209.89L465.33 209.24L467.6 208.6L469.87 207.95L472.13 207.3L474.39 206.65L476.65 206L476.7 205.99" stroke="#32a5ea" stroke-width="4.1" stroke-dasharray="3.9 16.25" stroke-dashoffset="12.64"/>
<path d="M476.7 205.99L478.92 205.36L481.19 204.72L483.49 204.1L485.8 203.5L488.14 202.91L490.49 202.33L492.86 201.76L495.24 201.2L495.3 201.19" stroke="#32a5ea" stroke-width="4.1" stroke-dasharray="3.9 16.25" stroke-dashoffset="12.67"/>
<path d="M495.3 201.19L497.63 200.65L500.02 200.12L502.41 199.6L504.8 199.1L507.18 198.62L509.57 198.17L511.96 197.73L514.35 197.31L514.35 197.31" stroke="#32a5ea" stroke-width="4.1" stroke-dasharray="3.9 16.25" stroke-dashoffset="12.37"/>
<path d="M514.35 197.31L516.74 196.89L519.13 196.47L521.52 196.04L523.9 195.6L526.28 195.14L528.66 194.67L531.03 194.2L533.4 193.73" stroke="#32a5ea" stroke-width="4.1" stroke-dasharray="3.9 16.25" stroke-dashoffset="12.4"/>
<path d="M533.4 193.73L533.41 193.73L535.78 193.25L538.15 192.79L540.53 192.34L542.9 191.9L545.28 191.48L547.65 191.09L550.02 190.7L552.4 190.32" stroke="#32a5ea" stroke-width="4.1" stroke-dasharray="3.9 16.25" stroke-dashoffset="12.43"/>
<path d="M552.4 190.32L552.4 190.32L554.77 189.94L557.15 189.57L559.52 189.19L561.9 188.8L564.27 188.41L566.63 188.01L568.99 187.62L571.35 187.22L571.4 187.22" stroke="#32a5ea" stroke-width="4.1" stroke-dasharray="3.9 16.25" stroke-dashoffset="12.48"/>
<path d="M571.4 187.22L573.72 186.83L576.09 186.42L578.49 186.02L580.9 185.6L583.34 185.17L585.81 184.73L588.3 184.28L590.79 183.83L590.8 183.83" stroke="#32a5ea" stroke-width="4.1" stroke-dasharray="3.9 16.25" stroke-dashoffset="12.46"/>
<path d="M590.8 183.83L593.29 183.38L595.78 182.94L598.25 182.51L600.7 182.1L603.12 181.71L605.51 181.34L607.88 180.98L610.25 180.63" stroke="#32a5ea" stroke-width="4.1" stroke-dasharray="3.9 16.25" stroke-dashoffset="12.05"/>
<path d="M610.25 180.63L610.25 180.63L612.62 180.28L614.99 179.93L617.38 179.57L619.8 179.2L622.26 178.83L624.75 178.46L627.26 178.1L629.7 177.74" stroke="#32a5ea" stroke-width="4.1" stroke-dasharray="3.9 16.25" stroke-dashoffset="12.44"/>
<path d="M629.7 177.74L629.78 177.73L632.29 177.35L634.77 176.96L637.22 176.54L639.6 176.1L641.91 175.62L644.16 175.12L646.36 174.59L648.54 174.04L648.6 174.03" stroke="#32a5ea" stroke-width="4.1" stroke-dasharray="3.9 16.25" stroke-dashoffset="12.06"/>
<path d="M648.6 174.03L650.72 173.49L652.91 172.95L655.13 172.41L657.4 171.9L659.73 171.4L662.09 170.91L664.47 170.41L666.88 169.93L667.05 169.9" stroke="#32a5ea" stroke-width="4.1" stroke-dasharray="3.9 16.25" stroke-dashoffset="12.84"/>
<path d="M667.05 169.9L669.29 169.46L671.7 168.99L674.11 168.54L676.5 168.1L678.87 167.67L681.22 167.23L683.56 166.81L685.91 166.39L686 166.38" stroke="#32a5ea" stroke-width="4.1" stroke-dasharray="3.9 16.25" stroke-dashoffset="12.48"/>
<path d="M686 166.38L688.26 166L690.64 165.63L693.05 165.3L695.5 165L698.01 164.75L700.57 164.54L703.18 164.36L705.8 164.21" stroke="#32a5ea" stroke-width="4.1" stroke-dasharray="3.9 16.25" stroke-dashoffset="12.5"/>
<path d="M705.8 164.21L705.8 164.21L708.42 164.07L711.03 163.95L713.59 163.83L716.1 163.7L718.54 163.57L720.93 163.45L723.27 163.34L725.6 163.24" stroke="#32a5ea" stroke-width="4.1" stroke-dasharray="3.9 16.25" stroke-dashoffset="11.79"/>
<path d="M725.6 163.24L725.6 163.24L727.93 163.14L730.28 163.05L732.66 162.97L735.1 162.9L737.6 162.83L740.14 162.78L742.71 162.72L745.3 162.68L745.4 162.68" stroke="#32a5ea" stroke-width="4.1" stroke-dasharray="3.9 16.25" stroke-dashoffset="12.59"/>
<path d="M745.4 162.68L747.9 162.65L750.51 162.62L753.11 162.61L755.7 162.6L758.28 162.61L760.87 162.63L763.46 162.67L766 162.71" stroke="#32a5ea" stroke-width="4.1" stroke-dasharray="3.9 16.25" stroke-dashoffset="11.8"/>
<path d="M766 162.71L766.05 162.71L768.63 162.76L771.21 162.81L773.76 162.86L776.3 162.9L778.81 162.94L781.31 162.98L783.78 163.03L786.2 163.07" stroke="#32a5ea" stroke-width="4.1" stroke-dasharray="3.9 16.25" stroke-dashoffset="11.8"/>
<path d="M786.2 163.07L786.25 163.07L788.71 163.11L791.17 163.15L793.63 163.18L796.1 163.2L798.57 163.22L801.03 163.22L803.49 163.23L805.95 163.23L806 163.22" stroke="#32a5ea" stroke-width="4.1" stroke-dasharray="3.9 16.25" stroke-dashoffset="12.2"/>
<path d="M806 163.22L808.42 163.22L810.89 163.21L813.39 163.21L815.9 163.2L818.44 163.19L821.01 163.17L823.6 163.15L826.19 163.13L826.2 163.13" stroke="#32a5ea" stroke-width="4.1" stroke-dasharray="3.9 16.25" stroke-dashoffset="12.2"/>
<path d="M826.2 163.13L828.79 163.11L831.38 163.1L833.95 163.09L836.5 163.1L839.02 163.12L841.53 163.15L844.02 163.18L846.45 163.22" stroke="#32a5ea" stroke-width="4.1" stroke-dasharray="3.9 16.25" stroke-dashoffset="11.8"/>
<path d="M846.45 163.22L846.5 163.23L848.98 163.27L851.45 163.32L853.92 163.36L856.4 163.4L858.87 163.44L861.34 163.48L863.8 163.51L866.26 163.55L866.3 163.55" stroke="#32a5ea" stroke-width="4.1" stroke-dasharray="3.9 16.25" stroke-dashoffset="12.15"/>
<path d="M866.3 163.55L868.72 163.59L871.2 163.63L873.69 163.66L876.2 163.7L878.74 163.74L881.31 163.77L883.9 163.8L886.5 163.84" stroke="#32a5ea" stroke-width="4.1" stroke-dasharray="3.9 16.25" stroke-dashoffset="12.2"/>
<path d="M886.5 163.84L886.5 163.84L889.1 163.87L891.69 163.91L894.26 163.95L896.8 164L899.28 164.06L901.7 164.12L904.08 164.19L906.46 164.27L906.7 164.28" stroke="#32a5ea" stroke-width="4.1" stroke-dasharray="3.9 16.25" stroke-dashoffset="11.8"/>
<path d="M906.7 164.28L908.87 164.34L911.34 164.41L913.91 164.46L916.6 164.5L919.61 164.52L922.97 164.54L926.52 164.54L926.9 164.54" stroke="#32a5ea" stroke-width="4.1" stroke-dasharray="3.9 16.25" stroke-dashoffset="12.2"/>
<path d="M926.9 164.54L930.09 164.53L933.5 164.52L936.59 164.51L939.18 164.5L941.1 164.5" stroke="#32a5ea" stroke-width="4.1" stroke-dasharray="3.9 16.25" stroke-dashoffset="11.8"/>
<path d="M91.1 502C92.25 502 95.62 502.03 98 502C100.38 501.97 103.15 502.03 105.4 501.8C107.65 501.57 109.47 501.28 111.5 500.6C113.53 499.92 115.66 498.97 117.58 497.7C119.49 496.42 121.11 494.92 122.99 492.95C124.88 490.98 126.01 489.67 128.9 485.86C131.79 482.04 136.39 475.6 140.34 470.08C144.29 464.56 148.51 458.69 152.59 452.76C156.66 446.82 160.69 440.6 164.77 434.48C168.85 428.36 172.99 422.02 177.09 416.06C181.18 410.09 185.23 404.34 189.32 398.71C193.42 393.07 197.56 387.56 201.66 382.25C205.76 376.95 209.8 371.86 213.91 366.9C218.01 361.94 222.17 356.95 226.28 352.51C230.4 348.06 234.49 344.14 238.58 340.21C242.67 336.29 246.05 333.22 250.84 328.96C255.62 324.69 261.81 319.24 267.28 314.62C272.75 310 278.2 305.46 283.66 301.26C289.12 297.05 294.56 293.2 300.05 289.4C305.54 285.61 311.1 281.99 316.59 278.49C322.08 274.99 329.24 270.78 332.97 268.41C336.71 266.04 335.32 266.6 339 264.26C342.68 261.91 349.16 257.78 355.03 254.34C360.9 250.9 367.56 246.85 374.23 243.63C380.89 240.42 388.11 237.71 395.01 235.05C401.92 232.39 409.05 230.06 415.66 227.68C422.27 225.3 428.34 222.89 434.69 220.77C441.03 218.65 447.12 216.92 453.73 214.95C460.34 212.98 467.48 210.8 474.36 208.94C481.24 207.09 488.13 205.44 495 203.83C501.88 202.23 508.76 200.73 515.64 199.33C522.52 197.92 529.39 196.69 536.26 195.42C543.14 194.15 549.99 192.9 556.88 191.72C563.77 190.53 570.71 189.42 577.59 188.32C584.48 187.22 591.34 186.13 598.21 185.11C605.08 184.1 611.96 183.13 618.83 182.21C625.7 181.29 632.5 180.47 639.43 179.61C646.36 178.75 653.48 178.27 660.42 177.05C667.35 175.83 675.47 173.74 681.03 172.29C686.59 170.85 690.06 169.38 693.78 168.39C697.5 167.4 699.63 166.94 703.35 166.33C707.07 165.73 711.85 165.13 716.09 164.74C720.33 164.35 722.98 164.09 728.8 164C734.62 163.91 743.35 163.98 751 164.2C758.65 164.42 766.78 165.03 774.7 165.3C782.62 165.57 789.25 165.75 798.5 165.8C807.75 165.85 819.63 165.63 830.2 165.6C840.77 165.57 851.33 165.47 861.9 165.6C872.47 165.73 883.03 166.23 893.6 166.4C904.17 166.57 917.38 166.6 925.3 166.6C933.22 166.6 938.47 166.43 941.1 166.4" stroke="#f0a93d" stroke-width="6.1" stroke-dasharray="25.9 30.55" stroke-dashoffset="0"/>
<path d="M91.1 502C92.25 502 95.62 502.03 98 502C100.38 501.97 103.15 502.03 105.4 501.8C107.65 501.57 109.45 501.25 111.5 500.6C113.55 499.95 115.7 499.08 117.7 497.9C119.7 496.72 121.47 495.37 123.5 493.5C125.53 491.63 126.8 490.38 129.9 486.7C133 483.02 138.02 476.85 142.1 471.4C146.18 465.95 150.32 459.95 154.4 454C158.48 448.05 162.52 441.82 166.6 435.7C170.68 429.58 174.82 423.25 178.9 417.3C182.98 411.35 187.02 405.62 191.1 400C195.18 394.38 199.32 388.88 203.4 383.6C207.48 378.32 211.52 373.23 215.6 368.3C219.68 363.37 223.82 358.42 227.9 354C231.98 349.58 236.03 345.7 240.1 341.8C244.17 337.9 247.53 334.85 252.3 330.6C257.07 326.35 263.25 320.9 268.7 316.3C274.15 311.7 279.57 307.18 285 303C290.43 298.82 295.85 295 301.3 291.2C306.75 287.4 312.25 283.73 317.7 280.2C323.15 276.67 330.28 272.4 334 270C337.72 267.6 336.35 268.17 340 265.8C343.65 263.43 350.08 259.27 355.9 255.8C361.72 252.33 368.3 248.25 374.9 245C381.5 241.75 388.63 238.98 395.5 236.3C402.37 233.62 409.5 231.28 416.1 228.9C422.7 226.52 428.77 224.12 435.1 222C441.43 219.88 447.5 218.17 454.1 216.2C460.7 214.23 467.83 212.05 474.7 210.2C481.57 208.35 488.43 206.7 495.3 205.1C502.17 203.5 509.03 202 515.9 200.6C522.77 199.2 529.63 197.97 536.5 196.7C543.37 195.43 550.22 194.18 557.1 193C563.98 191.82 570.92 190.7 577.8 189.6C584.68 188.5 591.53 187.42 598.4 186.4C605.27 185.38 612.13 184.42 619 183.5C625.87 182.58 632.67 181.82 639.6 180.9C646.53 179.98 653.67 179.33 660.6 178C667.53 176.67 675.65 174.43 681.2 172.9C686.75 171.37 690.2 169.85 693.9 168.8C697.6 167.75 699.7 167.27 703.4 166.6C707.1 165.93 711.87 165.23 716.1 164.8C720.33 164.37 722.98 164.1 728.8 164C734.62 163.9 743.35 163.98 751 164.2C758.65 164.42 766.78 165.03 774.7 165.3C782.62 165.57 789.25 165.75 798.5 165.8C807.75 165.85 819.63 165.63 830.2 165.6C840.77 165.57 851.33 165.47 861.9 165.6C872.47 165.73 883.03 166.23 893.6 166.4C904.17 166.57 917.38 166.6 925.3 166.6C933.22 166.6 938.47 166.43 941.1 166.4" stroke="#7ab928" stroke-width="3.2" stroke-dasharray="19.2 9.1 4.8 9.1" stroke-dashoffset="27"/>
</g>
<g stroke="#000" stroke-width="2.2" fill="none">
<path d="M91.1 49V544.9H942.2"/>
<line x1="80.3" y1="50.1" x2="91.1" y2="50.1" stroke-linecap="round"/>
<line x1="80.3" y1="173.8" x2="91.1" y2="173.8" stroke-linecap="round"/>
<line x1="80.3" y1="297.5" x2="91.1" y2="297.5" stroke-linecap="round"/>
<line x1="80.3" y1="421.2" x2="91.1" y2="421.2" stroke-linecap="round"/>
<line x1="80.3" y1="544.9" x2="91.1" y2="544.9" stroke-linecap="round"/>
<line x1="91.1" y1="544.9" x2="91.1" y2="556.9"/>
<line x1="374.43" y1="544.9" x2="374.43" y2="556.9"/>
<line x1="657.77" y1="544.9" x2="657.77" y2="556.9"/>
<line x1="941.1" y1="544.9" x2="941.1" y2="556.9"/>
</g>
<text x="34.63" y="59.1" font-size="27.7" textLength="44.14" lengthAdjust="spacingAndGlyphs">200</text>
<text x="34.63" y="182.8" font-size="27.7" textLength="44.14" lengthAdjust="spacingAndGlyphs">150</text>
<text x="34.63" y="306.5" font-size="27.7" textLength="44.14" lengthAdjust="spacingAndGlyphs">100</text>
<text x="49.38" y="430.2" font-size="27.7" textLength="29.43" lengthAdjust="spacingAndGlyphs">50</text>
<text transform="translate(64.06 553.9) scale(0.9550 1)" font-size="27.7">0</text>
<text transform="translate(84.28 578.3) scale(0.9550 1)" font-size="27.7">0</text>
<text x="360.3" y="578.3" font-size="27.7" textLength="29.43" lengthAdjust="spacingAndGlyphs">30</text>
<text x="643.47" y="578.3" font-size="27.7" textLength="29.43" lengthAdjust="spacingAndGlyphs">60</text>
<text x="926.84" y="578.3" font-size="27.7" textLength="29.43" lengthAdjust="spacingAndGlyphs">90</text>
<text x="451.49" y="606.9" font-size="28.2" textLength="128.55" lengthAdjust="spacingAndGlyphs">Time (min)</text>
<text transform="translate(23.7 297.3) rotate(-90)" font-size="27.6" text-anchor="middle" word-spacing="-3.6">Temperature (<tspan font-family="DejaVu Sans, sans-serif" font-size="25">º</tspan>C)</text>
<rect x="119.9" y="13.8" width="5.1" height="4" fill="#32a5ea"/>
<rect x="310.3" y="12.9" width="19.6" height="5.8" fill="#f0a93d"/>
<rect x="688.2" y="14.4" width="7.7" height="3.2" rx="0.5" fill="#7ab928"/>
<rect x="702.1" y="14.4" width="5.8" height="3.2" rx="0.5" fill="#7ab928"/>
<text font-size="27.9"><tspan x="147.33" y="25.2" textLength="153.71" lengthAdjust="spacingAndGlyphs">Experimental</tspan></text>
<text font-size="27.9"><tspan x="339.44" y="25.2" textLength="120.72" lengthAdjust="spacingAndGlyphs">Simulation</tspan><tspan x="458.02" y="25.2" textLength="7.98" lengthAdjust="spacingAndGlyphs">:</tspan> <tspan x="473.22" y="25.2" textLength="12.23" lengthAdjust="spacingAndGlyphs">λ</tspan><tspan x="484.86" y="25.2" textLength="16.53" lengthAdjust="spacingAndGlyphs">=</tspan> <tspan x="507.92" y="25.2" textLength="15.03" lengthAdjust="spacingAndGlyphs">0</tspan><tspan x="521.02" y="25.2" textLength="7.98" lengthAdjust="spacingAndGlyphs">.</tspan><tspan x="523.99" y="25.2" textLength="53.56" lengthAdjust="spacingAndGlyphs">1447</tspan> <tspan x="583.08" y="25.2" textLength="23.02" lengthAdjust="spacingAndGlyphs">W</tspan> <tspan x="614.9" y="25.2" textLength="6.91" lengthAdjust="spacingAndGlyphs">/</tspan><tspan x="621.13" y="25.2" textLength="57.8" lengthAdjust="spacingAndGlyphs">(mK)</tspan></text>
<text font-size="27.9"><tspan x="717.44" y="25.2" textLength="120.72" lengthAdjust="spacingAndGlyphs">Simulation</tspan><tspan x="835.02" y="25.2" textLength="7.98" lengthAdjust="spacingAndGlyphs">:</tspan> <tspan x="850.61" y="25.2" textLength="12.44" lengthAdjust="spacingAndGlyphs">λ</tspan><tspan x="862.52" y="25.2" textLength="17.01" lengthAdjust="spacingAndGlyphs">=</tspan><tspan x="878.81" y="25.2" textLength="40.02" lengthAdjust="spacingAndGlyphs">f(T)</tspan></text>
<g transform="translate(0 8.6)">
<rect x="569.6" y="277.5" width="402.6" height="174.2" fill="#fff"/>
<path d="M572.1 280H969.7V449.2H572.1ZM572.1 336.6H969.7M572.1 392.4H969.7M848 280V449.2" fill="none" stroke="#000" stroke-width="1.9" stroke-linejoin="round"/>
<text transform="translate(645.38 318.3) scale(0.9500 1)" font-size="28.6" letter-spacing="-0.888" font-weight="bold">Simulation</text>
<text transform="translate(869.85 317.9) scale(0.9500 1)" font-size="28.8" letter-spacing="-0.431" font-weight="bold">MAPE</text>
<text font-size="28.4"><tspan x="591.8" y="375.3" textLength="13.58" lengthAdjust="spacingAndGlyphs">λ</tspan> <tspan x="612.35" y="375.3" textLength="16.65" lengthAdjust="spacingAndGlyphs">=</tspan> <tspan x="636.19" y="375.3" textLength="84.93" lengthAdjust="spacingAndGlyphs">0.1447</tspan> <tspan x="728.56" y="375.3" textLength="48.91" lengthAdjust="spacingAndGlyphs">Wm</tspan><tspan x="777.26" y="367.4" font-size="18.7" textLength="14.65" lengthAdjust="spacingAndGlyphs">-1</tspan><tspan x="794.18" y="375.3" textLength="17.94" lengthAdjust="spacingAndGlyphs">K</tspan><tspan x="811.98" y="367.4" font-size="18.7" textLength="14.32" lengthAdjust="spacingAndGlyphs">-1</tspan></text>
<text font-size="28.4"><tspan x="869.85" y="375.3" textLength="77.45" lengthAdjust="spacingAndGlyphs">1.22%</tspan></text>
<text font-size="28.4"><tspan x="667.1" y="430.2" textLength="13.58" lengthAdjust="spacingAndGlyphs">λ</tspan> <tspan x="687.65" y="430.2" textLength="16.65" lengthAdjust="spacingAndGlyphs">=</tspan> <tspan x="711.08" y="430.2" textLength="43.91" lengthAdjust="spacingAndGlyphs">f(T)</tspan></text>
<text font-size="28.4"><tspan x="869.85" y="430.2" textLength="77.45" lengthAdjust="spacingAndGlyphs">1.92%</tspan></text>
</g>
<text x="480.64" y="666.3" font-size="51.7" textLength="60.85" lengthAdjust="spacingAndGlyphs">(c)</text>
</g>
<g transform="translate(1049 788)">
<g stroke="#ebebeb" stroke-width="1.9" fill="none">
<line x1="91.1" y1="50.1" x2="943.9" y2="50.1"/>
<line x1="91.1" y1="111.95" x2="943.9" y2="111.95"/>
<line x1="91.1" y1="173.8" x2="943.9" y2="173.8"/>
<line x1="91.1" y1="235.65" x2="943.9" y2="235.65"/>
<line x1="91.1" y1="297.5" x2="943.9" y2="297.5"/>
<line x1="91.1" y1="359.35" x2="943.9" y2="359.35"/>
<line x1="91.1" y1="421.2" x2="943.9" y2="421.2"/>
<line x1="91.1" y1="483.05" x2="943.9" y2="483.05"/>
<line x1="233.07" y1="49.1" x2="233.07" y2="544.9"/>
<line x1="375.03" y1="49.1" x2="375.03" y2="544.9"/>
<line x1="517" y1="49.1" x2="517" y2="544.9"/>
<line x1="658.97" y1="49.1" x2="658.97" y2="544.9"/>
<line x1="800.93" y1="49.1" x2="800.93" y2="544.9"/>
<line x1="942.9" y1="49.1" x2="942.9" y2="544.9"/>
</g>
<g fill="none" stroke-linecap="round" stroke-linejoin="round">
<path d="M91.1 503.5L91.63 503.5L92.34 503.52L93.18 503.53L94.11 503.54L95.1 503.55L96.11 503.55L97.09 503.53L98 503.5L98.88 503.45L99.77 503.4L100.66 503.35L101.56 503.27L102.44 503.19L103.32 503.08L104.17 502.95L105 502.8L105.8 502.62L106.58 502.43L107.35 502.22L108.09 501.98L108.83 501.72L109.56 501.44L110.28 501.14L111 500.8L111.72 500.43L112.43 500.02L113.14 499.58L113.84 499.12L114.53 498.64L115.21 498.16L115.86 497.68L116.5 497.2L117.12 496.72L117.71 496.24L118.29 495.74L118.4 495.65" stroke="#32a5ea" stroke-width="4.1" stroke-dasharray="3.9 16.25" stroke-dashoffset="0"/>
<path d="M118.4 495.65L118.86 495.24L119.41 494.75L119.95 494.25L120.48 493.77L121 493.3L121.46 492.94L121.83 492.72L122.15 492.57L122.48 492.39L122.86 492.11L123.35 491.64L123.98 490.9L124.8 489.8L125.85 488.29L127.1 486.43L128.5 484.29L130 481.96L130.4 481.33" stroke="#32a5ea" stroke-width="4.1" stroke-dasharray="3.9 16.25" stroke-dashoffset="13.36"/>
<path d="M130.4 481.33L131.55 479.53L133.1 477.07L134.6 474.67L136 472.4L137.33 470.24L138.64 468.08L139.94 465.93L141.1 463.98" stroke="#32a5ea" stroke-width="4.1" stroke-dasharray="3.9 16.25" stroke-dashoffset="11.56"/>
<path d="M141.1 463.98L141.23 463.78L142.49 461.62L143.74 459.46L144.98 457.29L146.2 455.1L147.4 452.89L148.57 450.66L149.72 448.42L150.8 446.3" stroke="#32a5ea" stroke-width="4.1" stroke-dasharray="3.9 16.25" stroke-dashoffset="11.86"/>
<path d="M150.8 446.3L150.86 446.17L151.99 443.93L153.12 441.7L154.26 439.49L155.4 437.3L156.54 435.15L157.68 433.05L158.81 430.96L159.94 428.89L160 428.77" stroke="#32a5ea" stroke-width="4.1" stroke-dasharray="3.9 16.25" stroke-dashoffset="11.99"/>
<path d="M160 428.77L161.08 426.81L162.23 424.71L163.4 422.58L164.6 420.4L165.83 418.17L167.09 415.89L168.38 413.58L169.67 411.26L169.7 411.21" stroke="#32a5ea" stroke-width="4.1" stroke-dasharray="3.9 16.25" stroke-dashoffset="12.55"/>
<path d="M169.7 411.21L170.97 408.92L172.27 406.59L173.55 404.28L174.8 402L176.02 399.75L177.23 397.51L178.42 395.29L179.6 393.07" stroke="#32a5ea" stroke-width="4.1" stroke-dasharray="3.9 16.25" stroke-dashoffset="11.57"/>
<path d="M179.6 393.07L179.6 393.07L180.78 390.86L181.97 388.64L183.18 386.43L184.4 384.2L185.64 381.96L186.89 379.72L188.15 377.47L189.43 375.23L189.5 375.09" stroke="#32a5ea" stroke-width="4.1" stroke-dasharray="3.9 16.25" stroke-dashoffset="12.02"/>
<path d="M189.5 375.09L190.7 372.98L191.99 370.74L193.29 368.51L194.6 366.3L195.93 364.09L197.27 361.88L198.63 359.66L200 357.46" stroke="#32a5ea" stroke-width="4.1" stroke-dasharray="3.9 16.25" stroke-dashoffset="11.93"/>
<path d="M200 357.46L200 357.46L201.37 355.28L202.73 353.12L204.07 350.99L205.4 348.9L206.69 346.86L207.96 344.87L209.21 342.91L210.45 340.98L210.5 340.9" stroke="#32a5ea" stroke-width="4.1" stroke-dasharray="3.9 16.25" stroke-dashoffset="11.98"/>
<path d="M210.5 340.9L211.7 339.06L212.97 337.13L214.26 335.18L215.6 333.2L216.98 331.2L218.39 329.18L219.82 327.16L221.27 325.13L221.4 324.94" stroke="#32a5ea" stroke-width="4.1" stroke-dasharray="3.9 16.25" stroke-dashoffset="12.86"/>
<path d="M221.4 324.94L222.74 323.08L224.22 321.03L225.71 318.97L227.2 316.9L228.7 314.81L230.23 312.68L231.77 310.54L233.31 308.39L233.35 308.34" stroke="#32a5ea" stroke-width="4.1" stroke-dasharray="3.9 16.25" stroke-dashoffset="12.18"/>
<path d="M233.35 308.34L234.86 306.25L236.42 304.13L237.96 302.04L239.5 300L241.03 298.01L242.54 296.05L244.05 294.12L245.56 292.21L245.6 292.17" stroke="#32a5ea" stroke-width="4.1" stroke-dasharray="3.9 16.25" stroke-dashoffset="11.74"/>
<path d="M245.6 292.17L247.08 290.32L248.6 288.45L250.14 286.57L251.7 284.7L253.27 282.83L254.85 280.98L256.44 279.14L258.04 277.31L258.15 277.19" stroke="#32a5ea" stroke-width="4.1" stroke-dasharray="3.9 16.25" stroke-dashoffset="12.46"/>
<path d="M258.15 277.19L259.65 275.49L261.28 273.66L262.93 271.83L264.6 270L266.29 268.15L268.01 266.29L269.74 264.42L271.49 262.55L271.5 262.54" stroke="#32a5ea" stroke-width="4.1" stroke-dasharray="3.9 16.25" stroke-dashoffset="12.44"/>
<path d="M271.5 262.54L273.26 260.7L275.03 258.86L276.81 257.06L278.6 255.3L280.4 253.59L282.21 251.91L284.04 250.27L285.8 248.72" stroke="#32a5ea" stroke-width="4.1" stroke-dasharray="3.9 16.25" stroke-dashoffset="12.24"/>
<path d="M285.8 248.72L285.87 248.66L287.71 247.05L289.54 245.44L291.38 243.83L293.2 242.2L295.01 240.55L296.81 238.9L298.61 237.24L300.41 235.58L300.45 235.54" stroke="#32a5ea" stroke-width="4.1" stroke-dasharray="3.9 16.25" stroke-dashoffset="12.24"/>
<path d="M300.45 235.54L302.21 233.93L304.02 232.27L305.85 230.63L307.7 229L309.57 227.38L311.45 225.75L313.35 224.14L315.26 222.53L315.35 222.45" stroke="#32a5ea" stroke-width="4.1" stroke-dasharray="3.9 16.25" stroke-dashoffset="12.34"/>
<path d="M315.35 222.45L317.18 220.92L319.11 219.33L321.05 217.76L323 216.2L324.96 214.66L326.94 213.13L328.92 211.61L330.92 210.11L332.93 208.61L334.94 207.13L336.97 205.66L339 204.2L339.3 203.99" stroke="#32a5ea" stroke-width="4.1" stroke-dasharray="3.9 16.25" stroke-dashoffset="12.22"/>
<path d="M339.3 203.99L341.05 202.74L343.11 201.26L345.18 199.79L347.26 198.34L349.35 196.91L351.44 195.52L353.52 194.18L355.6 192.9L357.67 191.7L359.75 190.58L361.82 189.51L363.89 188.47L363.9 188.47" stroke="#32a5ea" stroke-width="4.1" stroke-dasharray="3.9 16.25" stroke-dashoffset="2.38"/>
<path d="M363.9 188.47L365.96 187.46L368.04 186.44L370.12 185.39L372.2 184.3L374.29 183.17L376.38 182.03L378.48 180.87L380.58 179.71L382.68 178.53L384.78 177.36L386.89 176.18L389 175L391.11 173.83L393.22 172.65L395.34 171.47L397.46 170.29L397.85 170.07" stroke="#32a5ea" stroke-width="4.1" stroke-dasharray="3.9 16.25" stroke-dashoffset="12.81"/>
<path d="M397.85 170.07L399.58 169.11L401.71 167.91L403.85 166.71L406 165.5L408.17 164.28L410.36 163.04L412.56 161.8L414.77 160.56L416.97 159.3L419.17 158.04L421.35 156.77L423.5 155.5L425.63 154.23L427.75 152.98L429.86 151.72L431.85 150.52" stroke="#32a5ea" stroke-width="4.1" stroke-dasharray="3.9 16.25" stroke-dashoffset="12.75"/>
<path d="M431.85 150.52L431.95 150.46L434.03 149.17L436.1 147.86L438.16 146.5L440.2 145.1L442.22 143.61L444.21 142.01L446.19 140.36L448.15 138.69L448.15 138.69" stroke="#32a5ea" stroke-width="4.1" stroke-dasharray="3.9 16.25" stroke-dashoffset="12.15"/>
<path d="M448.15 138.69L450.11 137.04L452.09 135.45L454.08 133.96L456.1 132.6L458.14 131.37L460.17 130.24L462.22 129.19L464.27 128.2L464.45 128.12" stroke="#32a5ea" stroke-width="4.1" stroke-dasharray="3.9 16.25" stroke-dashoffset="12.07"/>
<path d="M464.45 128.12L466.36 127.27L468.47 126.38L470.61 125.53L472.8 124.7L475.04 123.9L477.33 123.15L479.67 122.45L482.02 121.79L482.15 121.75" stroke="#32a5ea" stroke-width="4.1" stroke-dasharray="3.9 16.25" stroke-dashoffset="13.07"/>
<path d="M482.15 121.75L484.4 121.16L486.78 120.55L489.15 119.97L491.5 119.4L493.84 118.86L496.18 118.35L498.51 117.87L500.85 117.42" stroke="#32a5ea" stroke-width="4.1" stroke-dasharray="3.9 16.25" stroke-dashoffset="12.46"/>
<path d="M500.85 117.42L500.85 117.42L503.19 116.98L505.53 116.55L507.86 116.13L510.2 115.7L512.53 115.27L514.86 114.86L517.18 114.45L519.5 114.05L519.55 114.04" stroke="#32a5ea" stroke-width="4.1" stroke-dasharray="3.9 16.25" stroke-dashoffset="12.59"/>
<path d="M519.55 114.04L521.83 113.66L524.17 113.27L526.52 112.88L528.9 112.5L531.3 112.12L533.72 111.76L536.16 111.4L538.61 111.04L538.65 111.04" stroke="#32a5ea" stroke-width="4.1" stroke-dasharray="3.9 16.25" stroke-dashoffset="12.62"/>
<path d="M538.65 111.04L541.07 110.69L543.52 110.33L545.97 109.97L548.4 109.6L550.82 109.21L553.24 108.81L555.65 108.4L558.05 107.99" stroke="#32a5ea" stroke-width="4.1" stroke-dasharray="3.9 16.25" stroke-dashoffset="12.24"/>
<path d="M558.05 107.99L558.06 107.99L560.47 107.58L562.88 107.2L565.29 106.83L567.7 106.5L570.11 106.2L572.51 105.93L574.91 105.67L577.31 105.44L577.35 105.43" stroke="#32a5ea" stroke-width="4.1" stroke-dasharray="3.9 16.25" stroke-dashoffset="12.34"/>
<path d="M577.35 105.43L579.71 105.22L582.13 105L584.55 104.8L587 104.6L589.47 104.41L591.95 104.24L594.45 104.07L596.96 103.92L597 103.92" stroke="#32a5ea" stroke-width="4.1" stroke-dasharray="3.9 16.25" stroke-dashoffset="12.41"/>
<path d="M597 103.92L599.48 103.77L601.99 103.62L604.5 103.46L607 103.3L609.49 103.13L611.98 102.96L614.47 102.79L616.95 102.62" stroke="#32a5ea" stroke-width="4.1" stroke-dasharray="3.9 16.25" stroke-dashoffset="12.08"/>
<path d="M616.95 102.62L616.95 102.62L619.43 102.44L621.92 102.27L624.41 102.09L626.9 101.9L629.4 101.71L631.89 101.51L634.39 101.3L636.89 101.09L636.9 101.09" stroke="#32a5ea" stroke-width="4.1" stroke-dasharray="3.9 16.25" stroke-dashoffset="12.12"/>
<path d="M636.9 101.09L639.4 100.89L641.9 100.68L644.4 100.49L646.9 100.3L649.4 100.12L651.92 99.95L654.43 99.78L656.9 99.62" stroke="#32a5ea" stroke-width="4.1" stroke-dasharray="3.9 16.25" stroke-dashoffset="12.07"/>
<path d="M656.9 99.62L656.94 99.61L659.45 99.45L661.95 99.3L664.43 99.15L666.9 99L669.34 98.86L671.74 98.73L674.13 98.6L676.51 98.47L676.55 98.47" stroke="#32a5ea" stroke-width="4.1" stroke-dasharray="3.9 16.25" stroke-dashoffset="12.08"/>
<path d="M676.55 98.47L678.9 98.35L681.3 98.24L683.73 98.12L686.2 98L688.72 97.88L691.28 97.76L693.86 97.64L696.46 97.53L696.5 97.52" stroke="#32a5ea" stroke-width="4.1" stroke-dasharray="3.9 16.25" stroke-dashoffset="12.44"/>
<path d="M696.5 97.52L699.07 97.41L701.67 97.3L704.25 97.2L706.8 97.1L709.31 97.01L711.8 96.92L714.27 96.84L716.74 96.77L716.75 96.77" stroke="#32a5ea" stroke-width="4.1" stroke-dasharray="3.9 16.25" stroke-dashoffset="11.79"/>
<path d="M716.75 96.77L719.2 96.7L721.68 96.63L724.17 96.56L726.7 96.5L729.4 96.44L732.32 96.38L735.35 96.32L736.4 96.3" stroke="#32a5ea" stroke-width="4.1" stroke-dasharray="3.9 16.25" stroke-dashoffset="12.15"/>
<path d="M736.4 96.3L738.34 96.26L741.18 96.21L743.74 96.17L745.89 96.13L747.5 96.1" stroke="#32a5ea" stroke-width="4.1" stroke-dasharray="3.9 16.25" stroke-dashoffset="12.4"/>
<path d="M91.1 504C92.25 504 95.45 504.1 98 504C100.55 503.9 103.98 503.8 106.4 503.4C108.82 503 110.47 502.54 112.5 501.6C114.53 500.66 116.69 499.26 118.6 497.76C120.5 496.26 122.16 494.56 123.92 492.62C125.69 490.69 126.87 489.5 129.19 486.16C131.51 482.83 134.73 477.75 137.85 472.61C140.97 467.46 144.54 461.07 147.92 455.29C151.3 449.51 154.71 443.85 158.11 437.91C161.51 431.96 164.91 425.56 168.31 419.61C171.71 413.65 175.12 407.98 178.52 402.19C181.92 396.4 185.32 390.68 188.72 384.89C192.12 379.1 195.54 373.1 198.93 367.47C202.32 361.84 205.68 356.55 209.05 351.09C212.42 345.63 215.46 340.53 219.17 334.71C222.87 328.89 227.23 322 231.3 316.17C235.36 310.33 239.47 305.03 243.54 299.71C247.6 294.39 251.61 289.25 255.67 284.27C259.73 279.29 261.8 276.31 267.89 269.84C273.99 263.37 284.49 252.63 292.25 245.45C300.01 238.27 307.28 232.87 314.45 226.75C321.62 220.63 327.62 214.3 335.25 208.75C342.88 203.2 352.4 198.35 360.25 193.45C368.1 188.55 374.27 183.97 382.35 179.35C390.43 174.73 400.42 170.28 408.75 165.75C417.08 161.22 426.12 155.85 432.35 152.15C438.58 148.45 442 146.37 446.15 143.55C450.3 140.73 453.87 137.62 457.25 135.25C460.63 132.88 462.75 130.78 466.45 129.35C470.15 127.92 472.2 127.87 479.45 126.65C486.7 125.43 500.7 123.58 509.95 122.05C519.2 120.52 525.78 118.93 534.95 117.45C544.12 115.97 555.45 114.3 564.95 113.15C574.45 112 582.52 111.52 591.95 110.55C601.38 109.58 612.32 108.32 621.55 107.35C630.78 106.38 638.12 105.5 647.35 104.75C656.58 104 667.5 103.38 676.95 102.85C686.4 102.32 694.6 102.03 704.05 101.55C713.5 101.07 726.15 100.37 733.65 99.95C741.15 99.53 746.48 99.2 749.05 99.05" stroke="#f0a93d" stroke-width="6.1" stroke-dasharray="25.9 30.55" stroke-dashoffset="0"/>
<path d="M91.1 504C92.25 504 95.45 504.1 98 504C100.55 503.9 103.98 503.8 106.4 503.4C108.82 503 110.45 502.52 112.5 501.6C114.55 500.68 116.73 499.33 118.7 497.9C120.67 496.47 122.43 494.87 124.3 493C126.17 491.13 127.43 489.97 129.9 486.7C132.37 483.43 135.87 478.5 139.1 473.4C142.33 468.3 145.9 461.88 149.3 456.1C152.7 450.32 156.1 444.65 159.5 438.7C162.9 432.75 166.3 426.35 169.7 420.4C173.1 414.45 176.5 408.78 179.9 403C183.3 397.22 186.7 391.48 190.1 385.7C193.5 379.92 196.9 373.92 200.3 368.3C203.7 362.68 207.1 357.43 210.5 352C213.9 346.57 216.97 341.48 220.7 335.7C224.43 329.92 228.82 323.08 232.9 317.3C236.98 311.52 241.12 306.27 245.2 301C249.28 295.73 253.32 290.63 257.4 285.7C261.48 280.77 266.05 275.53 269.7 271.4C273.35 267.27 275.15 264.97 279.3 260.9C283.45 256.83 289.28 251.62 294.6 247C299.92 242.38 305.43 238.17 311.2 233.2C316.97 228.23 323.42 221.95 329.2 217.2C334.98 212.45 339.88 208.87 345.9 204.7C351.92 200.53 359.3 195.9 365.3 192.2C371.3 188.5 376.35 185.5 381.9 182.5C387.45 179.5 393.05 176.97 398.6 174.2C404.15 171.43 410.12 168.52 415.2 165.9C420.28 163.28 424.93 160.7 429.1 158.5C433.27 156.3 436.5 154.93 440.2 152.7C443.9 150.47 447.6 147.98 451.3 145.1C455 142.22 459.4 137.83 462.4 135.4C465.4 132.97 467 131.65 469.3 130.5C471.6 129.35 473.2 129.13 476.2 128.5C479.2 127.87 482.67 127.52 487.3 126.7C491.93 125.88 498.45 124.53 504 123.6C509.55 122.67 515.52 121.88 520.6 121.1C525.68 120.32 529.55 119.68 534.5 118.9C539.45 118.12 544.45 117.23 550.3 116.4C556.15 115.57 563.15 114.65 569.6 113.9C576.05 113.15 582.55 112.55 589 111.9C595.45 111.25 601.87 110.63 608.3 110C614.73 109.37 621.17 108.75 627.6 108.1C634.03 107.45 640.47 106.75 646.9 106.1C653.33 105.45 659.77 104.68 666.2 104.2C672.63 103.72 679.05 103.48 685.5 103.2C691.95 102.92 698.45 102.8 704.9 102.5C711.35 102.2 716.92 101.87 724.2 101.4C731.48 100.93 744.53 99.98 748.6 99.7" stroke="#7ab928" stroke-width="3.2" stroke-dasharray="19.2 9.1 4.8 9.1" stroke-dashoffset="27"/>
</g>
<g stroke="#000" stroke-width="2.2" fill="none">
<path d="M91.1 49V544.9H944"/>
<line x1="80.3" y1="50.1" x2="91.1" y2="50.1" stroke-linecap="round"/>
<line x1="80.3" y1="173.8" x2="91.1" y2="173.8" stroke-linecap="round"/>
<line x1="80.3" y1="297.5" x2="91.1" y2="297.5" stroke-linecap="round"/>
<line x1="80.3" y1="421.2" x2="91.1" y2="421.2" stroke-linecap="round"/>
<line x1="80.3" y1="544.9" x2="91.1" y2="544.9" stroke-linecap="round"/>
<line x1="91.1" y1="544.9" x2="91.1" y2="556.9"/>
<line x1="375.03" y1="544.9" x2="375.03" y2="556.9"/>
<line x1="658.97" y1="544.9" x2="658.97" y2="556.9"/>
<line x1="942.9" y1="544.9" x2="942.9" y2="556.9"/>
</g>
<text x="34.63" y="59.1" font-size="27.7" textLength="44.14" lengthAdjust="spacingAndGlyphs">200</text>
<text x="34.63" y="182.8" font-size="27.7" textLength="44.14" lengthAdjust="spacingAndGlyphs">150</text>
<text x="34.63" y="306.5" font-size="27.7" textLength="44.14" lengthAdjust="spacingAndGlyphs">100</text>
<text x="49.38" y="430.2" font-size="27.7" textLength="29.43" lengthAdjust="spacingAndGlyphs">50</text>
<text transform="translate(64.06 553.9) scale(0.9550 1)" font-size="27.7">0</text>
<text transform="translate(84.28 578.3) scale(0.9550 1)" font-size="27.7">0</text>
<text x="360.9" y="578.3" font-size="27.7" textLength="29.43" lengthAdjust="spacingAndGlyphs">30</text>
<text x="644.67" y="578.3" font-size="27.7" textLength="29.43" lengthAdjust="spacingAndGlyphs">60</text>
<text x="928.64" y="578.3" font-size="27.7" textLength="29.43" lengthAdjust="spacingAndGlyphs">90</text>
<text x="452.39" y="606.9" font-size="28.2" textLength="128.55" lengthAdjust="spacingAndGlyphs">Time (min)</text>
<text transform="translate(23.7 297.3) rotate(-90)" font-size="27.6" text-anchor="middle" word-spacing="-3.6">Temperature (<tspan font-family="DejaVu Sans, sans-serif" font-size="25">º</tspan>C)</text>
<rect x="120" y="13.8" width="5.1" height="4" fill="#32a5ea"/>
<rect x="311" y="12.9" width="19.6" height="5.8" fill="#f0a93d"/>
<rect x="689.7" y="14.4" width="7.7" height="3.2" rx="0.5" fill="#7ab928"/>
<rect x="703.6" y="14.4" width="5.8" height="3.2" rx="0.5" fill="#7ab928"/>
<text font-size="27.9"><tspan x="147.62" y="25.2" textLength="153.92" lengthAdjust="spacingAndGlyphs">Experimental</tspan></text>
<text font-size="27.9"><tspan x="339.84" y="25.2" textLength="120.82" lengthAdjust="spacingAndGlyphs">Simulation</tspan><tspan x="460.02" y="25.2" textLength="7.98" lengthAdjust="spacingAndGlyphs">:</tspan> <tspan x="473.21" y="25.2" textLength="12.44" lengthAdjust="spacingAndGlyphs">λ</tspan> <tspan x="493.1" y="25.2" textLength="14.73" lengthAdjust="spacingAndGlyphs">=</tspan><tspan x="502.32" y="25.2" textLength="13.63" lengthAdjust="spacingAndGlyphs">0</tspan> <tspan x="522.72" y="25.2" textLength="7.98" lengthAdjust="spacingAndGlyphs">.</tspan><tspan x="525.97" y="25.2" textLength="54.3" lengthAdjust="spacingAndGlyphs">1447</tspan> <tspan x="585.57" y="25.2" textLength="24.73" lengthAdjust="spacingAndGlyphs">W</tspan><tspan x="610.2" y="25.2" textLength="6.71" lengthAdjust="spacingAndGlyphs">/</tspan><tspan x="616.68" y="25.2" textLength="7.04" lengthAdjust="spacingAndGlyphs">(</tspan> <tspan x="631.79" y="25.2" textLength="49.13" lengthAdjust="spacingAndGlyphs">mK)</tspan></text>
<text font-size="27.9"><tspan x="718.34" y="25.2" textLength="120.82" lengthAdjust="spacingAndGlyphs">Simulation</tspan><tspan x="838.02" y="25.2" textLength="7.98" lengthAdjust="spacingAndGlyphs">:</tspan> <tspan x="853.01" y="25.2" textLength="12.64" lengthAdjust="spacingAndGlyphs">λ</tspan><tspan x="865.3" y="25.2" textLength="15.93" lengthAdjust="spacingAndGlyphs">=</tspan><tspan x="879.46" y="25.2" textLength="8.18" lengthAdjust="spacingAndGlyphs">f</tspan> <tspan x="895.28" y="25.2" textLength="7.04" lengthAdjust="spacingAndGlyphs">(</tspan><tspan x="902.63" y="25.2" textLength="18.06" lengthAdjust="spacingAndGlyphs">T</tspan><tspan x="922.14" y="25.2" textLength="6.91" lengthAdjust="spacingAndGlyphs">)</tspan></text>
<g transform="translate(0.7 2.1)">
<rect x="569.6" y="277.5" width="402.6" height="174.2" fill="#fff"/>
<path d="M572.1 280H969.7V449.2H572.1ZM572.1 336.6H969.7M572.1 392.4H969.7M848 280V449.2" fill="none" stroke="#000" stroke-width="1.9" stroke-linejoin="round"/>
<text transform="translate(645.38 318.3) scale(0.9500 1)" font-size="28.6" letter-spacing="-0.888" font-weight="bold">Simulation</text>
<text transform="translate(869.85 317.9) scale(0.9500 1)" font-size="28.8" letter-spacing="-0.431" font-weight="bold">MAPE</text>
<text font-size="28.4"><tspan x="591.8" y="374" textLength="13.58" lengthAdjust="spacingAndGlyphs">λ</tspan> <tspan x="612.35" y="374" textLength="16.65" lengthAdjust="spacingAndGlyphs">=</tspan> <tspan x="636.19" y="374" textLength="84.93" lengthAdjust="spacingAndGlyphs">0.1447</tspan> <tspan x="728.56" y="374" textLength="48.91" lengthAdjust="spacingAndGlyphs">Wm</tspan><tspan x="777.26" y="366.1" font-size="18.7" textLength="14.65" lengthAdjust="spacingAndGlyphs">-1</tspan><tspan x="794.18" y="374" textLength="17.94" lengthAdjust="spacingAndGlyphs">K</tspan><tspan x="811.98" y="366.1" font-size="18.7" textLength="14.32" lengthAdjust="spacingAndGlyphs">-1</tspan></text>
<text font-size="28.4"><tspan x="869.85" y="374" textLength="77.45" lengthAdjust="spacingAndGlyphs">1.37%</tspan></text>
<text font-size="28.4"><tspan x="667.1" y="431.1" textLength="13.58" lengthAdjust="spacingAndGlyphs">λ</tspan> <tspan x="687.65" y="431.1" textLength="16.65" lengthAdjust="spacingAndGlyphs">=</tspan> <tspan x="711.08" y="431.1" textLength="43.91" lengthAdjust="spacingAndGlyphs">f(T)</tspan></text>
<text font-size="28.4"><tspan x="870.55" y="431.1" textLength="76.75" lengthAdjust="spacingAndGlyphs">2.35%</tspan></text>
</g>
<text x="486.56" y="666.3" font-size="51.7" textLength="63.44" lengthAdjust="spacingAndGlyphs">(d)</text>
</g>
</svg>
</body></html>
